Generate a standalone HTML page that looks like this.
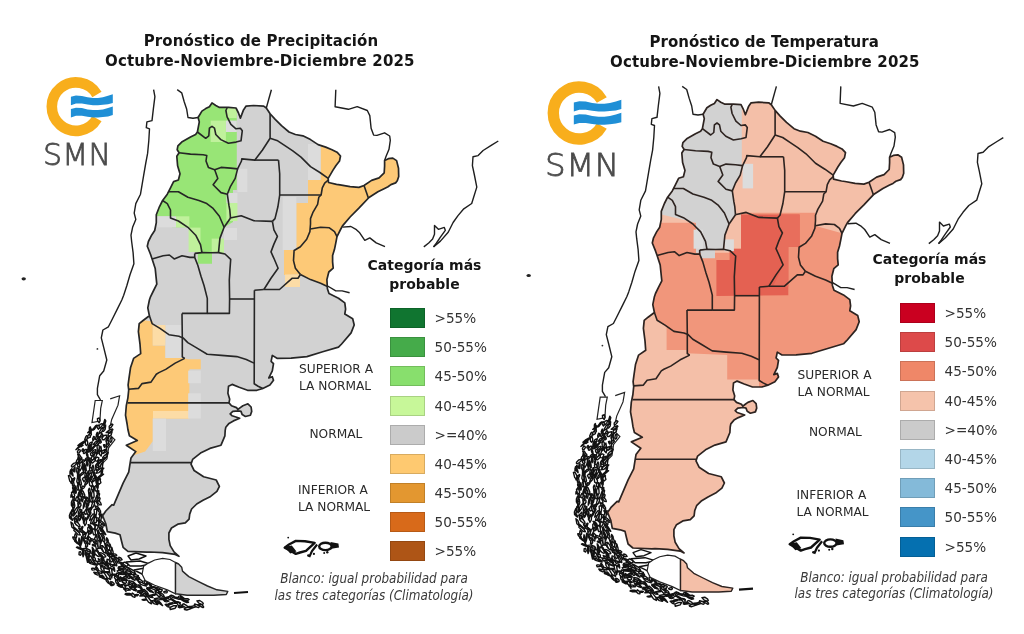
<!DOCTYPE html>
<html><head><meta charset="utf-8">
<style>
html,body{margin:0;padding:0;background:#fff;}
#w{position:relative;width:1024px;height:634px;overflow:hidden;background:#fff;font-family:"DejaVu Sans","Liberation Sans",sans-serif;filter:blur(0.4px);}
svg{position:absolute;left:0;top:0;}
.t{position:absolute;white-space:nowrap;font-family:"DejaVu Sans",sans-serif;font-weight:bold;color:#151515;font-size:15px;line-height:20px;}
.box{position:absolute;width:35px;height:20px;box-sizing:border-box;border:1px solid rgba(0,0,0,0.15);}
.lab{position:absolute;font-size:13.6px;line-height:16px;color:#333;white-space:nowrap;font-family:"DejaVu Sans",sans-serif;}
.cat{position:absolute;font-size:12.2px;line-height:17px;color:#2a2a2a;white-space:nowrap;font-family:"DejaVu Sans",sans-serif;}
.lt{position:absolute;font-weight:bold;font-size:14px;line-height:19.1px;color:#151515;text-align:center;white-space:nowrap;font-family:"DejaVu Sans",sans-serif;}
.fn{position:absolute;font-style:italic;font-size:13.35px;line-height:16.7px;color:#3a3a3a;text-align:center;white-space:nowrap;font-family:"DejaVu Sans Condensed","DejaVu Sans",sans-serif;}
.smn{position:absolute;font-family:"DejaVu Sans",sans-serif;font-weight:200;color:#484848;-webkit-text-stroke:0.85px #505050;white-space:nowrap;}
</style></head><body><div id="w">
<svg width="1024" height="634" viewBox="0 0 1024 634">
<clipPath id="cl"><polygon points="198.1,117.5 201.9,111.1 205.7,108.6 209.4,106.7 212.0,102.9 215.8,105.5 219.5,107.4 228.4,107.4 236.0,108.0 238.5,113.0 240.4,118.1 243.5,109.9 246.1,106.1 253.6,105.5 263.7,106.1 266.3,108.0 270.1,113.7 275.2,119.4 281.5,125.7 289.0,132.0 295.4,134.5 302.9,135.8 310.5,139.6 318.1,144.6 325.7,147.1 332.0,149.7 337.0,152.2 340.5,156.0 339.5,161.0 336.0,165.5 333.0,170.1 328.2,178.4 328.5,182.5 336.5,184.3 340.0,184.8 350.1,186.7 358.9,187.4 364.0,185.5 371.6,180.4 379.1,177.9 384.2,172.8 384.6,166.0 384.6,160.6 388.4,158.7 392.8,158.1 396.6,160.6 398.5,168.2 398.7,176.6 397.3,180.8 395.6,182.9 390.9,184.6 388.0,186.7 384.6,188.4 377.9,191.8 369.0,197.5 358.9,208.2 350.1,217.0 342.5,225.9 340.8,229.0 337.0,236.6 335.8,242.9 334.5,249.3 332.6,255.6 332.6,261.9 333.2,268.2 328.8,272.0 326.9,279.6 327.4,288.7 329.0,293.5 338.5,298.2 344.8,302.9 345.6,309.2 344.8,314.0 352.7,318.7 354.2,325.0 351.1,332.9 341.6,344.0 338.5,347.1 322.7,351.8 306.9,356.6 291.1,358.2 277.0,358.3 272.3,355.4 271.1,361.3 273.5,363.7 272.3,370.8 268.8,377.9 272.3,376.7 273.5,380.2 269.9,385.0 262.8,388.5 256.9,390.3 247.5,390.3 239.2,387.3 232.1,384.4 228.5,386.2 227.9,393.3 229.7,399.2 229.0,402.9 231.5,405.7 236.5,407.6 237.8,409.5 240.3,407.6 242.9,405.7 247.9,403.8 251.1,407.0 251.7,411.4 250.4,415.2 245.4,416.5 242.2,414.6 241.0,411.4 238.4,410.8 232.8,411.4 230.2,413.9 232.1,415.8 239.7,418.3 233.4,420.9 229.0,423.4 225.8,427.2 225.2,430.3 224.9,435.8 221.0,445.2 209.9,448.4 200.5,453.1 192.6,459.4 191.0,464.2 194.1,470.5 203.6,476.8 216.2,480.0 219.4,486.3 216.9,491.4 210.6,496.4 203.0,500.2 196.7,504.0 191.6,509.0 189.7,514.1 189.1,519.1 185.3,522.9 177.8,524.2 171.5,528.0 168.9,533.0 168.9,539.3 170.2,545.6 174.0,551.9 179.0,556.3 175.2,554.4 162.6,552.6 150.0,552.0 146.8,552.1 127.9,551.3 123.1,547.3 121.5,541.0 120.0,534.7 115.2,533.1 107.3,531.6 105.8,523.7 102.6,515.8 105.8,511.0 112.1,504.7 113.7,505.2 118.4,494.2 123.1,483.1 128.7,472.1 130.2,462.6 131.0,457.9 135.8,451.6 126.3,445.2 137.3,440.5 129.4,435.8 127.9,429.5 127.1,424.0 125.5,415.2 126.3,405.7 127.9,397.8 128.7,390.0 128.1,385.0 128.9,378.9 130.5,367.8 133.6,358.4 140.7,353.6 140.0,344.2 138.4,331.6 139.2,323.7 143.1,320.5 149.4,315.8 147.8,307.9 149.4,300.0 150.5,296.8 153.6,290.5 156.8,284.2 156.0,276.3 155.2,268.4 152.1,258.9 150.5,254.2 147.3,246.3 148.4,241.5 151.6,235.2 154.7,230.5 156.3,222.6 156.3,214.7 159.4,206.8 162.6,200.5 167.3,194.2 170.5,187.9 173.6,181.6 178.4,180.0 180.0,173.7 177.6,165.8 176.8,156.3 179.1,152.8 177.2,149.7 177.9,145.9 181.7,142.1 190.5,137.0 195.6,134.5 197.4,132.0 199.3,121.9"/><polygon points="175.5,562.5 178.6,564.0 181.7,567.2 182.5,571.1 188.8,576.6 198.1,581.3 207.5,586.0 216.9,589.8 227.8,591.4 226.3,594.5 213.8,595.3 201.3,595.3 187.2,595.3 175.5,593.8"/></clipPath>
<polyline points="153.6,89.7 154.9,96.6 153.3,109.3 152.0,120.6 146.9,121.9 146.3,127.6 149.5,128.8 148.8,140.8 147.6,153.4 145.7,163.5 143.7,175.2 142.1,184.7 140.5,194.2 135.8,203.6 134.2,213.1 135.8,219.4 132.6,227.3 131.0,235.2 131.7,242.0 133.1,252.6 133.9,263.7 130.0,274.7 126.8,285.8 123.7,295.2 121.8,300.0 117.9,307.9 111.6,320.5 108.4,326.8 102.9,330.0 101.3,337.9 103.7,347.3 106.8,360.0 103.7,371.0 99.7,375.7 97.4,388.4 97.4,394.7 100.5,400.0" fill="none" stroke="#1e1e1e" stroke-width="1.4" stroke-linejoin="round"/>
<polyline points="177.2,89.7 181.7,92.8 184.2,101.7 186.7,109.3 188.0,117.5 193.0,118.3 198.1,117.5" fill="none" stroke="#1e1e1e" stroke-width="1.4" stroke-linejoin="round"/>
<polyline points="266.3,108.0 271.4,89.7" fill="none" stroke="#1e1e1e" stroke-width="1.4" stroke-linejoin="round"/>
<polyline points="335.8,89.7 335.1,106.7 348.4,109.3 357.2,106.7 367.3,110.5 369.8,115.6 371.1,128.2 373.6,135.1 377.0,135.4 384.6,132.8 389.7,136.0 390.3,140.4 389.0,149.3 385.9,156.8 384.6,160.6" fill="none" stroke="#1e1e1e" stroke-width="1.4" stroke-linejoin="round"/>
<polyline points="498.3,141.0 492.0,144.8 483.1,150.5 478.1,155.6 473.0,156.8 472.4,165.7 474.3,174.5 476.8,187.1 471.7,203.5 463.8,208.8 458.0,215.6 453.1,222.5 448.2,232.3 440.4,241.1 433.5,246.9" fill="none" stroke="#1e1e1e" stroke-width="1.4" stroke-linejoin="round"/>
<polyline points="423.8,246.9 428.7,243.0 432.6,239.1 434.5,234.2 434.5,225.4 438.4,229.3 444.3,227.4 445.3,230.3 440.4,237.1 436.5,243.0 433.5,246.9" fill="none" stroke="#1e1e1e" stroke-width="1.4" stroke-linejoin="round"/>
<polyline points="342.5,227.1 350.9,226.5 356.4,229.7 359.7,232.8 364.8,240.4 369.8,237.9 376.2,242.9 385.0,246.7" fill="none" stroke="#1e1e1e" stroke-width="1.4" stroke-linejoin="round"/>
<polyline points="327.6,286.0 335.8,290.9 342.1,290.9 349.6,292.8" fill="none" stroke="#1e1e1e" stroke-width="1.4" stroke-linejoin="round"/>
<polyline points="110.2,398.9 119.6,395.8 118.0,405.2 111.7,419.4 108.6,433.6 114.9,439.9 108.6,447.8 107.0,458.8 97.6,468.3 86.5,476.2" fill="none" stroke="#222" stroke-width="1.2"/>
<polygon points="95.2,400.5 102.3,400.5 100.7,408.4 99.9,421.0 92.0,422.6 93.6,411.5" fill="#fff" stroke="#222" stroke-width="1.2"/>
<g fill="#fff" stroke="#111" stroke-width="1.4" stroke-linejoin="round"><polygon points="109.3,428.5 109.2,426.2 111.7,423.9 112.9,424.6 111.3,427.1"/><polygon points="103.8,425.6 103.6,423.5 104.8,419.5 105.8,420.9 105.0,423.8"/><polygon points="99.2,422.8 97.7,421.0 97.4,418.6 99.3,417.9 100.0,420.6"/><polygon points="106.2,432.6 109.3,430.1 112.3,428.9 112.9,429.7 109.7,432.3"/><polygon points="102.7,430.9 102.9,428.8 104.5,425.7 105.6,425.0 105.6,426.4 104.2,430.0"/><polygon points="98.7,428.2 98.5,426.6 100.2,424.4 101.9,423.7 102.9,424.2 101.7,426.1 100.3,428.0"/><polygon points="109.2,433.6 110.0,432.2 112.0,431.1 111.9,432.9 110.8,434.2"/><polygon points="101.9,431.1 102.4,429.5 103.7,427.7 105.5,427.6 105.0,429.5 103.5,431.4"/><polygon points="98.5,429.3 97.2,427.5 97.1,425.7 98.3,425.0 99.5,427.3"/><polygon points="109.2,436.5 108.0,435.9 108.4,433.7 109.6,433.2 111.1,432.4 111.4,434.5 110.3,435.9"/><polygon points="100.0,434.3 99.4,432.1 101.0,429.3 102.5,427.4 103.2,429.3 101.6,432.2"/><polygon points="93.0,430.2 93.0,429.1 95.5,425.8 96.6,425.2 96.3,426.5 94.2,429.5"/><polygon points="110.5,442.4 109.9,441.4 110.1,439.3 110.8,437.7 111.9,437.5 112.0,439.6 111.5,441.7"/><polygon points="100.3,436.9 100.1,435.6 101.5,434.5 102.6,434.5 103.0,435.6 101.6,437.0"/><polygon points="97.7,437.3 97.7,434.7 100.7,432.7 102.0,433.3 100.2,436.7"/><polygon points="90.6,434.2 89.9,432.0 89.3,429.5 89.6,427.5 90.4,426.9 90.9,429.6 91.2,432.5"/><polygon points="106.1,441.8 106.0,440.1 107.7,437.2 109.2,435.7 108.6,438.1 107.6,440.6"/><polygon points="102.8,439.8 101.9,438.7 103.6,435.7 105.4,435.3 106.9,435.1 106.3,437.6 104.2,439.8"/><polygon points="97.2,437.2 96.2,435.0 97.1,432.5 97.9,432.4 97.9,434.6"/><polygon points="87.7,432.7 89.4,431.0 91.6,429.1 92.5,429.4 91.9,430.5 89.4,432.4"/><polygon points="106.4,448.9 106.2,445.2 107.1,440.2 108.3,440.1 108.8,441.6 108.0,444.9"/><polygon points="98.9,441.6 98.7,439.5 98.9,437.3 100.0,437.2 99.6,439.6"/><polygon points="96.3,440.1 95.4,439.2 96.4,436.3 97.9,435.3 97.8,437.5 97.3,439.1"/><polygon points="89.3,436.2 88.8,435.1 89.5,433.7 90.9,433.1 91.4,434.5 90.5,436.0"/><polygon points="106.2,446.7 106.3,445.0 107.8,443.9 109.1,443.4 109.3,444.7 107.8,446.3"/><polygon points="100.3,443.1 99.0,442.9 98.7,441.3 98.9,439.7 100.2,439.7 101.0,440.8 101.3,442.3"/><polygon points="92.9,440.9 92.7,438.8 93.6,436.5 94.9,437.1 94.2,439.3"/><polygon points="87.6,438.5 87.3,437.0 88.2,435.2 89.8,434.7 90.2,435.7 90.4,437.0 89.1,437.6"/><polygon points="104.5,447.3 104.0,446.5 103.5,444.9 104.1,444.6 104.8,444.7 105.1,446.8"/><polygon points="93.4,447.1 96.1,443.2 100.2,440.0 100.4,441.4 97.5,444.8"/><polygon points="93.0,444.7 95.1,442.1 97.6,440.7 98.3,441.4 96.0,443.8"/><polygon points="85.4,440.7 84.7,439.4 85.9,436.4 86.8,435.6 87.7,436.3 86.7,439.8"/><polygon points="102.2,452.9 102.5,451.5 105.1,449.4 106.7,449.6 107.0,450.2 106.4,451.7 103.3,453.5"/><polygon points="98.1,451.5 97.3,449.2 97.0,446.5 98.0,444.1 99.3,446.1 99.2,449.5"/><polygon points="88.1,447.8 88.4,445.7 89.6,443.4 91.0,442.4 92.3,442.0 91.6,444.5 89.9,446.4"/><polygon points="86.7,445.5 85.6,444.7 85.2,442.4 85.6,440.0 86.9,439.9 87.7,442.2 87.6,444.4"/><polygon points="99.4,453.9 100.4,451.8 103.4,450.3 105.6,450.4 103.9,452.3 102.1,453.4"/><polygon points="101.1,456.1 99.7,454.6 98.9,450.1 99.9,448.0 100.9,446.3 101.6,450.3 101.8,453.6"/><polygon points="92.1,448.7 92.1,448.0 93.6,446.6 94.4,446.8 93.8,447.7 92.8,448.8"/><polygon points="88.6,447.7 88.4,446.4 89.7,445.4 90.9,445.2 91.3,446.4 89.9,447.4"/><polygon points="77.9,445.5 80.2,443.5 83.7,441.4 86.3,440.5 84.5,442.3 80.0,445.1"/><polygon points="104.0,459.2 103.7,458.4 105.4,455.2 107.5,452.1 108.2,452.6 106.9,455.9 105.0,458.5"/><polygon points="94.8,454.8 96.1,453.4 97.9,451.7 100.8,450.1 100.7,451.1 98.8,453.0 96.2,454.4"/><polygon points="93.1,452.4 92.4,451.7 93.8,450.1 95.4,449.6 96.3,450.1 95.1,451.6 93.8,452.6"/><polygon points="86.6,453.2 87.5,449.8 90.0,444.7 90.9,444.9 88.6,450.2"/><polygon points="79.8,446.2 80.5,445.1 82.0,444.6 83.1,445.3 81.1,446.8"/><polygon points="103.3,458.4 102.7,457.5 104.5,455.4 106.9,454.5 107.3,455.7 105.9,457.4 104.3,458.5"/><polygon points="93.4,455.3 94.1,453.5 96.7,451.8 98.3,451.3 97.7,452.8 95.4,454.7"/><polygon points="88.4,452.1 88.8,451.0 91.5,448.7 92.5,448.9 92.6,449.9 89.5,451.9"/><polygon points="87.6,451.7 88.0,450.3 91.2,447.6 91.6,448.5 89.0,451.4"/><polygon points="75.9,449.7 78.4,446.9 80.2,444.7 82.6,443.1 83.0,443.5 80.7,445.8 78.5,447.9"/><polygon points="99.8,462.0 101.7,459.6 105.0,457.4 106.3,457.4 102.5,460.9"/><polygon points="93.7,459.0 93.7,456.1 95.4,452.7 96.9,453.6 95.8,457.0"/><polygon points="91.8,455.9 90.7,455.2 90.5,453.2 91.8,452.6 92.7,453.6 93.3,455.5"/><polygon points="84.0,453.6 83.3,453.0 84.5,450.2 85.8,449.4 86.5,449.5 86.5,451.1 85.0,453.2"/><polygon points="82.4,451.4 81.9,450.8 82.2,449.7 83.0,448.7 83.6,449.5 83.6,450.4 83.2,451.6"/><polygon points="99.7,463.3 99.1,461.4 100.2,459.7 101.2,459.8 100.9,461.6"/><polygon points="96.0,460.9 94.8,460.1 95.7,458.0 97.4,457.2 98.9,457.9 98.3,459.8 97.2,461.2"/><polygon points="92.7,460.8 91.1,458.6 92.6,455.4 93.9,456.5 94.0,458.5"/><polygon points="87.8,457.4 87.2,456.5 86.5,454.8 86.6,453.0 87.3,453.5 87.8,454.7 88.0,456.3"/><polygon points="77.7,453.1 77.4,451.9 78.7,449.3 80.0,449.8 80.4,451.0 79.0,453.0"/><polygon points="97.7,463.6 97.5,462.5 97.8,460.7 99.3,460.1 100.2,460.7 100.2,462.3 98.8,463.5"/><polygon points="91.4,462.7 91.4,461.3 93.3,459.6 95.5,458.0 95.2,459.7 94.8,461.1 92.6,463.1"/><polygon points="87.7,460.4 87.2,460.0 88.4,458.9 89.4,457.9 90.3,458.1 89.5,459.6 88.1,461.2"/><polygon points="84.9,460.6 85.5,458.9 86.7,457.9 88.5,457.3 87.9,459.0 86.6,460.0"/><polygon points="81.2,460.0 79.6,458.4 77.7,454.4 79.3,454.4 81.4,457.9"/><polygon points="100.9,468.9 99.7,468.9 100.8,465.1 101.7,463.4 103.2,461.1 102.6,465.4 102.1,469.5"/><polygon points="95.6,466.5 95.4,465.9 96.9,463.7 98.8,462.2 98.9,463.1 98.2,464.8 96.1,467.0"/><polygon points="89.7,467.6 89.0,464.3 89.7,458.8 90.6,460.6 90.7,464.4"/><polygon points="81.9,463.2 82.2,461.5 82.8,460.0 83.9,460.0 84.7,461.0 83.3,462.2"/><polygon points="78.7,464.1 78.0,462.4 77.7,459.4 78.2,456.7 79.1,457.4 79.7,459.4 79.3,462.1"/><polygon points="96.6,470.4 95.7,468.3 97.0,464.7 98.8,460.7 98.6,465.1 98.5,469.4"/><polygon points="97.6,467.5 96.5,467.7 96.0,465.6 96.3,464.3 97.5,465.0 98.5,467.0"/><polygon points="87.1,466.1 86.6,464.7 86.4,462.5 86.9,460.6 87.5,462.6 87.6,464.8"/><polygon points="80.4,465.6 78.9,464.3 80.1,460.6 81.6,457.5 82.2,460.8 81.5,463.4"/><polygon points="76.6,462.8 76.2,461.9 76.8,460.1 78.5,458.9 79.0,460.0 78.5,461.5 77.5,462.9"/><polygon points="95.9,473.2 98.0,470.3 101.6,468.0 103.8,468.3 99.0,472.6"/><polygon points="93.3,473.6 92.4,471.2 92.0,468.0 92.4,466.3 93.0,465.2 93.8,467.7 94.0,471.5"/><polygon points="86.3,470.8 85.1,469.5 84.0,465.0 84.3,463.5 85.3,465.2 86.0,468.0"/><polygon points="80.0,470.8 79.0,468.8 79.5,464.1 81.2,461.8 82.2,462.4 82.7,465.0 81.4,468.2"/><polygon points="79.1,467.0 77.8,466.3 77.3,464.6 77.9,463.5 79.3,463.8 80.0,465.8"/><polygon points="101.1,475.2 101.1,473.1 101.1,471.1 101.9,469.0 102.6,469.3 102.5,471.5 102.0,474.2"/><polygon points="90.7,471.2 89.7,470.6 89.5,468.6 90.5,467.5 91.4,467.7 91.9,468.9 91.8,470.6"/><polygon points="85.4,471.4 84.5,468.5 84.2,465.7 84.8,465.7 85.4,468.3"/><polygon points="83.7,472.5 82.6,468.9 82.4,464.6 82.9,463.2 83.6,468.2"/><polygon points="71.5,466.8 71.5,465.6 73.7,463.3 76.0,462.6 77.3,463.0 74.9,465.3 72.7,467.0"/><polygon points="96.7,478.7 98.3,477.1 100.3,475.3 102.3,474.3 103.6,474.1 101.0,476.3 98.0,478.6"/><polygon points="94.7,476.8 93.7,475.5 93.3,473.5 94.5,472.5 95.2,475.2"/><polygon points="88.4,474.9 88.0,474.4 87.6,472.8 88.1,470.9 88.9,470.9 89.0,473.1 88.8,474.6"/><polygon points="77.9,474.4 76.7,471.8 76.9,467.7 78.5,468.4 78.9,471.7"/><polygon points="74.0,471.9 73.5,471.2 74.0,468.1 75.0,466.8 75.1,469.0 74.9,471.7"/><polygon points="100.1,480.6 98.8,479.7 98.5,477.3 99.1,477.2 100.5,479.1"/><polygon points="88.9,479.3 88.2,478.1 89.5,473.7 90.8,472.8 91.6,474.1 90.1,478.3"/><polygon points="85.5,478.4 84.8,477.1 85.0,474.5 85.4,472.2 86.1,472.9 86.8,474.3 86.2,476.6"/><polygon points="78.7,476.4 80.0,474.8 82.0,472.7 84.0,472.1 84.4,472.6 82.8,474.3 80.0,476.3"/><polygon points="70.0,474.3 70.0,472.1 71.8,468.7 72.6,469.6 71.6,472.5"/><polygon points="99.6,482.0 98.2,480.9 97.2,479.1 97.9,477.8 99.1,478.7 99.7,480.3"/><polygon points="89.8,480.6 90.3,478.2 91.6,476.1 92.5,476.2 91.6,479.2"/><polygon points="87.6,478.3 86.6,477.7 87.0,475.7 87.9,475.5 88.2,477.5"/><polygon points="78.2,477.6 77.5,477.8 77.6,473.8 78.0,471.1 78.8,470.1 78.9,473.9 78.7,476.7"/><polygon points="73.1,476.0 72.0,474.9 70.3,471.3 70.5,470.0 71.7,471.7 72.8,474.1"/><polygon points="97.9,485.9 96.5,483.3 95.7,479.5 95.1,476.4 95.6,475.4 97.1,478.5 97.3,481.8"/><polygon points="92.3,482.2 92.3,481.1 93.5,478.8 95.4,476.7 95.4,478.3 94.9,479.9 93.5,481.4"/><polygon points="83.9,481.7 83.2,480.3 82.4,478.9 83.5,477.5 85.0,477.6 85.4,479.3 85.0,480.6"/><polygon points="78.4,485.0 78.5,480.9 78.9,476.9 79.9,474.5 80.1,477.4 79.6,482.1"/><polygon points="72.2,483.4 69.7,480.9 68.4,475.7 69.9,475.5 72.4,479.9"/><polygon points="99.1,484.2 97.6,482.6 98.6,479.4 100.0,479.6 100.9,482.8"/><polygon points="90.2,484.0 89.3,482.2 89.0,478.6 89.8,477.6 90.6,482.1"/><polygon points="86.9,483.3 86.4,481.5 86.8,478.6 87.9,479.4 87.9,481.7"/><polygon points="78.0,484.1 76.8,481.6 77.2,478.8 78.4,477.4 79.2,481.7"/><polygon points="71.0,483.1 71.4,481.6 72.7,479.3 74.4,477.7 74.8,478.2 74.1,480.2 72.1,482.8"/><polygon points="98.1,488.0 97.0,486.5 96.2,481.8 96.4,479.5 97.4,481.0 98.2,485.6"/><polygon points="92.2,487.1 89.7,485.4 89.0,481.0 90.5,480.4 92.5,484.0"/><polygon points="84.7,485.0 85.0,483.8 85.6,482.1 87.3,480.7 87.6,481.7 87.1,483.3 85.6,485.1"/><polygon points="80.6,486.2 79.6,483.9 79.0,479.2 80.6,479.9 81.5,484.0"/><polygon points="73.4,485.6 72.5,485.4 72.1,482.0 72.0,478.8 72.9,479.6 73.6,481.8 74.2,485.3"/><polygon points="96.3,491.1 94.5,489.5 93.1,487.3 93.0,485.9 94.2,486.7 95.7,488.9"/><polygon points="93.7,491.4 92.2,490.1 91.6,487.7 91.7,486.1 92.5,485.7 93.5,487.1 93.7,489.0"/><polygon points="80.5,489.6 81.4,487.9 82.7,486.1 83.4,486.3 83.6,487.0 82.1,488.4"/><polygon points="77.4,490.0 76.8,488.6 77.2,485.9 78.9,484.9 79.8,485.5 79.7,487.3 78.9,489.9"/><polygon points="75.7,488.5 74.1,488.4 73.0,486.2 74.2,485.4 75.6,487.0"/><polygon points="97.3,491.3 95.1,490.5 94.9,486.6 95.9,485.4 97.6,489.0"/><polygon points="92.1,490.1 91.2,489.2 92.1,486.2 93.6,486.4 93.8,487.7 93.3,489.4"/><polygon points="81.0,489.8 81.5,488.4 82.5,486.4 83.8,486.3 85.1,486.0 83.9,488.0 82.4,489.0"/><polygon points="80.2,492.2 78.5,488.9 78.0,484.1 79.8,484.6 81.1,488.8"/><polygon points="72.8,489.1 72.6,487.9 73.4,486.1 74.6,485.5 75.3,486.5 73.8,488.4"/><polygon points="97.6,494.0 96.9,492.9 97.7,491.1 98.8,490.7 98.7,493.3"/><polygon points="89.7,496.7 88.8,493.6 88.4,490.3 89.2,488.2 90.1,490.4 90.7,494.5"/><polygon points="82.1,493.3 81.3,493.1 80.3,491.4 81.1,490.4 81.8,489.8 82.6,491.1 82.6,492.6"/><polygon points="75.8,493.5 75.3,492.4 75.5,489.2 76.1,489.9 76.3,492.3"/><polygon points="72.1,494.6 72.1,492.1 74.4,488.3 75.7,488.3 73.9,492.5"/><polygon points="97.0,496.9 96.5,496.0 97.4,494.4 98.2,492.8 98.9,493.3 99.2,494.8 97.9,495.9"/><polygon points="93.0,498.0 91.7,497.5 91.5,494.0 92.1,491.8 93.4,490.4 94.0,493.9 94.1,496.9"/><polygon points="85.0,498.4 82.7,496.1 81.0,490.7 83.0,491.1 84.7,494.9"/><polygon points="79.0,495.8 78.5,495.1 78.6,493.6 79.2,492.2 80.0,492.1 80.0,493.8 79.6,495.3"/><polygon points="70.9,497.3 71.0,495.1 72.8,492.1 74.6,490.4 74.0,492.9 72.7,495.3"/><polygon points="96.7,499.8 96.7,496.9 98.4,493.5 99.6,493.9 98.7,497.7"/><polygon points="89.0,499.8 89.0,496.6 89.5,492.7 90.3,493.0 90.0,497.1"/><polygon points="80.5,496.8 80.2,495.4 81.8,493.2 82.9,494.5 81.8,496.4"/><polygon points="77.3,499.6 77.5,497.6 78.3,494.3 79.9,490.2 80.0,492.2 79.3,494.9 78.2,499.2"/><polygon points="73.9,497.3 72.3,496.3 71.5,492.7 73.6,492.1 74.7,495.6"/><polygon points="96.8,503.0 97.0,500.3 99.1,497.3 100.1,498.3 99.1,501.9"/><polygon points="89.2,502.5 87.5,501.4 85.6,498.6 85.8,496.9 87.4,497.7 89.6,500.7"/><polygon points="82.1,501.8 81.6,500.5 81.6,497.2 82.6,496.9 83.4,497.4 82.8,500.6"/><polygon points="77.3,501.4 75.7,500.4 76.0,498.3 76.8,496.7 78.2,497.9 78.0,499.7"/><polygon points="74.6,500.7 73.4,499.9 72.6,497.1 73.9,496.8 75.1,499.3"/><polygon points="95.4,502.1 94.5,501.6 95.9,497.7 97.5,494.9 97.3,498.2 96.4,502.3"/><polygon points="91.5,502.0 90.7,501.8 91.0,499.2 91.9,497.2 92.8,497.5 92.9,499.5 92.3,502.3"/><polygon points="83.8,505.4 84.4,501.9 86.9,497.5 87.6,497.6 85.9,501.5"/><polygon points="79.6,503.1 79.1,502.5 79.3,499.7 79.9,498.7 80.3,499.8 80.0,502.0"/><polygon points="71.4,505.4 71.4,502.2 72.3,500.0 73.9,499.1 73.0,502.8"/><polygon points="101.3,504.9 99.6,504.7 98.2,503.1 97.6,501.6 98.0,500.2 99.8,501.7 100.8,503.1"/><polygon points="87.3,507.1 86.3,505.0 87.4,501.2 89.0,499.7 88.6,505.1"/><polygon points="83.2,508.5 83.4,505.5 84.1,502.5 84.9,501.4 85.5,502.0 84.4,505.9"/><polygon points="80.0,507.2 78.5,506.7 77.8,503.7 78.0,501.8 79.3,503.1 80.4,505.6"/><polygon points="73.8,508.9 72.0,506.2 72.8,503.5 74.2,502.1 74.8,505.8"/><polygon points="97.1,507.0 95.3,506.3 93.7,502.8 94.1,500.6 96.2,501.6 98.1,505.3"/><polygon points="91.8,508.3 91.7,505.4 92.6,502.5 93.9,501.6 94.7,502.8 93.6,506.5"/><polygon points="86.2,506.8 86.7,505.2 87.5,503.6 88.4,503.3 88.6,504.1 87.5,505.7"/><polygon points="78.4,507.5 78.2,506.3 78.7,504.4 80.1,503.1 80.9,503.7 81.0,505.5 79.5,507.3"/><polygon points="73.6,507.3 72.7,507.7 72.4,506.0 72.4,504.6 73.3,504.5 74.0,505.5 74.3,506.8"/><polygon points="99.1,510.1 98.4,510.9 96.4,508.4 95.3,506.8 95.9,506.3 97.6,506.7 99.7,509.2"/><polygon points="90.1,510.8 89.6,509.3 90.4,507.7 91.5,507.1 91.4,509.8"/><polygon points="88.4,512.4 86.8,511.0 86.3,506.8 86.9,504.9 88.6,510.1"/><polygon points="74.4,514.9 74.4,511.0 76.8,507.6 78.8,506.7 76.9,511.5"/><polygon points="73.0,511.8 72.2,511.8 72.4,510.0 72.8,508.6 73.4,509.1 73.7,510.2 73.6,511.4"/><polygon points="100.6,512.7 99.0,511.8 97.8,509.8 97.5,508.1 99.0,509.1 100.5,510.9"/><polygon points="90.4,513.7 89.6,512.7 88.7,510.7 88.9,509.2 89.3,508.1 90.3,510.3 91.0,513.1"/><polygon points="85.6,514.3 84.3,512.8 85.2,510.4 86.2,509.2 86.9,510.7 87.3,513.4"/><polygon points="79.1,515.9 78.2,513.0 79.8,508.8 81.1,510.0 81.1,513.6"/><polygon points="73.1,516.2 72.1,514.1 71.2,512.2 71.7,510.3 72.6,509.4 73.2,512.2 74.0,514.7"/><polygon points="95.6,516.2 94.5,514.3 94.1,509.7 95.4,509.0 96.9,509.4 96.4,514.0"/><polygon points="89.6,515.7 87.7,514.9 86.1,509.8 87.6,509.2 89.4,513.4"/><polygon points="83.4,515.2 82.3,514.0 82.6,512.5 83.7,512.1 84.2,513.8"/><polygon points="78.4,518.0 79.1,514.6 80.1,512.0 81.9,509.8 81.4,512.8 80.4,515.8"/><polygon points="69.6,518.0 69.4,515.4 70.7,512.1 71.7,512.2 71.2,516.2"/><polygon points="100.6,517.5 100.3,516.1 101.3,514.3 102.2,514.1 101.7,516.5"/><polygon points="95.4,518.5 94.5,517.0 94.1,515.7 94.5,514.9 95.4,514.9 95.9,517.1"/><polygon points="82.9,520.0 82.6,517.8 83.3,515.9 84.0,515.9 84.0,518.1"/><polygon points="79.1,520.8 78.9,520.0 80.5,516.1 82.1,513.5 82.1,514.9 81.7,516.8 80.0,520.0"/><polygon points="72.6,520.4 71.1,519.5 69.8,516.7 70.6,516.4 72.1,518.6"/><polygon points="102.2,517.9 101.0,517.6 99.9,515.9 98.9,514.1 99.6,513.2 101.2,514.8 101.8,516.3"/><polygon points="89.6,520.4 90.7,516.8 93.0,513.9 94.5,514.3 92.5,518.7"/><polygon points="86.1,520.2 86.9,517.9 90.2,512.8 90.1,514.4 87.8,518.8"/><polygon points="78.9,519.6 78.5,518.1 78.4,516.0 80.1,516.2 80.5,517.4 80.2,518.8"/><polygon points="75.0,519.4 73.8,519.0 75.3,517.0 77.0,515.3 77.1,517.0 77.1,518.2 75.9,520.3"/><polygon points="98.3,521.2 97.2,520.4 96.5,519.4 96.3,517.8 97.5,517.9 98.7,518.4 99.4,520.3"/><polygon points="90.5,523.8 91.0,521.5 92.5,518.6 94.2,516.8 95.8,516.0 94.2,519.5 92.0,523.6"/><polygon points="83.5,523.0 83.5,520.6 85.6,517.7 86.1,519.6 85.5,521.5"/><polygon points="76.4,524.5 75.4,522.6 75.6,520.0 76.6,518.7 77.5,520.0 77.8,523.1"/><polygon points="76.8,524.0 75.1,523.4 74.0,518.2 75.4,518.5 77.2,522.1"/><polygon points="98.8,523.8 98.6,519.7 100.4,514.8 101.4,516.3 100.9,520.2"/><polygon points="95.2,522.9 93.9,522.2 94.3,518.3 95.3,517.1 96.5,517.9 96.5,522.1"/><polygon points="84.9,525.7 84.0,523.0 84.8,519.5 86.5,520.4 86.3,523.3"/><polygon points="80.1,526.7 78.9,526.8 76.0,524.6 74.5,521.9 75.6,521.4 78.0,522.8 79.7,525.2"/><polygon points="73.5,528.3 71.9,527.1 70.9,522.0 72.7,523.6 73.8,526.2"/><polygon points="105.1,525.7 103.5,525.3 101.3,523.3 99.3,521.2 99.0,519.5 102.3,521.8 105.0,524.4"/><polygon points="96.8,526.6 95.0,525.9 92.5,523.7 93.8,523.3 96.6,524.9"/><polygon points="92.1,528.3 90.6,527.4 89.4,526.3 88.0,524.7 88.9,524.8 90.1,525.2 91.7,527.1"/><polygon points="81.3,530.1 80.7,529.7 81.7,527.0 82.3,526.5 83.0,526.8 82.0,529.7"/><polygon points="77.8,531.4 76.2,531.3 73.3,528.0 74.5,527.6 77.0,529.8"/><polygon points="101.6,527.9 100.8,527.0 100.9,524.8 102.0,524.1 103.1,523.7 103.1,525.5 102.8,527.7"/><polygon points="95.4,531.7 94.7,528.7 95.5,525.3 96.2,524.5 96.4,528.8"/><polygon points="89.9,532.1 87.8,530.3 87.8,527.7 88.9,526.5 90.3,529.4"/><polygon points="84.2,534.0 82.2,532.5 80.5,530.2 79.7,528.2 81.4,529.4 83.5,531.8"/><polygon points="79.5,532.6 78.0,533.2 77.0,531.4 77.4,530.3 79.0,531.3"/><polygon points="102.3,529.6 100.3,528.4 98.5,526.2 98.3,524.2 100.2,525.5 102.3,527.5"/><polygon points="96.0,529.9 95.1,529.5 95.2,526.5 96.7,525.1 97.6,525.4 98.2,527.2 96.8,529.3"/><polygon points="91.8,533.2 90.7,530.1 90.0,526.3 90.8,526.7 91.7,530.0"/><polygon points="86.0,534.1 83.8,533.2 80.4,531.5 79.5,529.7 78.5,527.9 82.0,530.4 85.3,532.6"/><polygon points="80.4,535.0 77.9,534.6 73.8,530.2 75.2,529.3 78.9,532.5"/><polygon points="102.6,531.7 100.8,531.1 99.4,528.4 100.3,527.7 102.3,529.8"/><polygon points="94.9,534.9 93.6,534.9 92.4,530.8 92.8,528.5 93.8,529.1 95.0,530.4 95.5,533.5"/><polygon points="90.3,533.8 89.5,534.1 88.5,532.8 88.1,531.4 88.9,530.9 90.0,531.8 90.7,533.1"/><polygon points="84.9,536.1 82.9,535.3 82.8,533.1 83.8,532.7 85.5,534.0"/><polygon points="75.5,538.7 74.9,537.3 74.7,535.5 75.3,533.6 76.1,534.6 76.8,535.6 76.4,537.7"/><polygon points="105.8,534.7 104.0,533.9 101.7,530.5 99.8,527.2 102.4,529.1 104.4,532.2"/><polygon points="98.6,536.6 97.9,533.8 97.5,531.0 98.3,530.0 98.9,531.6 99.4,534.5"/><polygon points="85.4,538.4 84.9,537.4 85.9,534.0 88.1,531.0 88.6,532.5 88.5,535.1 86.5,538.5"/><polygon points="83.7,539.1 83.0,537.4 83.3,534.6 84.5,534.2 85.6,534.9 84.7,537.3"/><polygon points="76.3,541.2 75.4,541.4 73.2,538.6 72.7,537.1 73.2,536.9 74.5,537.5 76.1,540.0"/><polygon points="103.5,538.1 102.2,538.5 101.4,536.1 101.4,534.7 101.9,533.0 103.4,535.0 104.3,537.1"/><polygon points="95.3,542.4 95.2,538.5 95.9,534.4 96.8,534.8 96.8,539.3"/><polygon points="90.9,541.8 89.4,540.4 88.1,538.4 88.7,536.4 90.4,538.0 91.1,539.7"/><polygon points="80.9,545.1 80.3,544.6 81.0,540.4 81.7,536.5 82.3,537.3 82.2,540.5 81.5,543.5"/><polygon points="80.6,545.5 77.2,543.4 74.8,541.2 75.1,540.4 77.8,542.6"/><polygon points="100.8,543.5 99.7,539.5 100.4,533.7 102.1,533.4 102.0,539.4"/><polygon points="101.0,540.3 100.4,540.4 98.9,538.1 98.2,536.4 98.5,535.7 99.9,537.4 101.3,539.8"/><polygon points="89.7,544.3 88.3,543.5 86.8,540.9 87.3,539.7 87.4,537.7 88.9,540.3 90.0,542.7"/><polygon points="87.6,546.1 85.0,543.5 83.5,540.3 83.8,539.1 86.6,542.7"/><polygon points="80.6,548.2 79.6,545.1 78.7,540.9 79.0,538.0 80.0,541.2 80.4,544.6"/><polygon points="103.0,540.5 101.4,540.2 99.7,536.4 98.0,533.1 99.2,532.8 101.3,535.1 102.7,538.2"/><polygon points="96.2,541.8 95.0,541.3 94.6,538.6 95.5,537.0 96.6,536.3 97.2,538.7 96.9,540.6"/><polygon points="97.0,541.9 94.3,541.7 90.7,540.0 91.4,538.7 95.2,540.0"/><polygon points="86.2,547.6 85.5,546.6 85.8,544.2 86.5,542.9 87.5,541.7 87.7,544.3 87.1,546.7"/><polygon points="83.4,550.2 81.3,549.7 79.3,548.9 76.4,547.4 77.4,547.0 79.8,547.8 82.5,549.0"/><polygon points="104.0,541.7 102.9,540.9 102.6,538.6 103.5,537.3 104.4,538.7 105.0,540.7"/><polygon points="99.9,546.6 97.6,545.5 95.2,544.1 93.7,542.6 93.7,542.1 96.0,543.3 97.9,544.8"/><polygon points="96.8,546.4 94.6,546.1 93.1,545.6 92.3,544.9 93.0,544.3 95.1,545.3"/><polygon points="91.0,551.5 88.3,551.3 85.2,550.6 82.8,548.7 84.5,548.4 86.4,548.4 89.6,549.8"/><polygon points="80.6,555.3 79.0,554.5 79.2,552.0 80.6,551.6 81.3,553.9"/><polygon points="108.2,541.5 107.5,541.6 106.3,539.5 106.4,538.5 106.6,537.8 107.6,539.0 108.2,540.4"/><polygon points="99.0,548.5 97.9,548.1 97.8,543.8 98.0,540.5 99.1,540.1 100.3,543.2 100.0,547.7"/><polygon points="96.7,549.9 95.8,546.9 95.0,544.1 96.5,543.5 97.4,544.8 98.2,547.8"/><polygon points="85.9,554.2 85.4,553.0 85.3,551.4 86.0,549.9 87.1,549.6 87.1,551.7 86.7,553.1"/><polygon points="83.1,556.9 82.6,554.4 82.7,550.4 83.9,551.4 83.9,554.5"/><polygon points="108.9,545.7 107.9,546.0 107.0,543.5 106.7,542.2 107.3,541.9 108.6,542.3 109.3,544.7"/><polygon points="101.5,548.6 100.1,548.4 100.7,546.7 101.5,545.9 102.4,545.7 103.5,546.8 102.5,548.5"/><polygon points="94.5,555.9 93.7,554.7 92.7,551.0 92.2,547.1 93.1,548.3 94.1,550.7 94.9,554.6"/><polygon points="90.1,556.3 88.9,555.8 87.6,553.6 87.9,553.1 89.8,555.1"/><polygon points="89.0,557.5 87.2,557.2 85.0,553.8 86.3,553.1 88.9,555.6"/><polygon points="107.2,549.6 106.2,549.0 105.3,545.8 104.3,542.4 105.5,543.7 106.5,545.4 107.3,548.1"/><polygon points="104.5,552.1 102.6,551.0 100.2,546.7 101.0,545.7 102.3,545.7 104.1,549.6"/><polygon points="97.9,552.7 96.7,553.0 95.7,552.0 95.6,550.9 96.7,550.0 98.4,551.3"/><polygon points="93.5,557.8 91.7,557.5 89.6,555.1 89.2,553.0 90.3,552.8 92.1,553.2 93.6,556.0"/><polygon points="87.5,562.3 86.7,558.9 86.0,555.5 86.3,553.2 87.1,556.1 87.7,559.4"/><polygon points="109.6,547.3 109.2,546.7 108.8,545.6 109.3,544.9 109.9,544.0 110.5,545.4 110.2,546.8"/><polygon points="105.8,553.2 103.9,552.3 102.3,549.4 101.9,547.3 102.4,546.1 104.5,547.8 106.0,551.1"/><polygon points="99.0,556.7 97.4,556.0 94.7,553.4 94.9,551.5 95.0,550.0 97.3,551.6 99.7,555.5"/><polygon points="92.5,560.2 91.9,558.6 92.3,555.2 92.6,551.4 93.2,553.3 93.8,554.8 93.4,558.9"/><polygon points="88.2,561.7 87.6,560.3 87.8,557.9 88.1,555.7 88.7,556.4 89.0,557.9 88.8,559.9"/><polygon points="111.3,553.9 109.9,551.7 109.6,547.9 110.4,546.7 111.7,547.3 112.2,551.5"/><polygon points="105.8,556.9 103.5,557.3 99.4,554.6 99.4,552.8 101.4,552.9 104.6,554.6"/><polygon points="103.7,558.9 102.0,557.9 99.7,555.2 98.6,553.1 99.6,553.7 100.8,554.4 102.3,556.6"/><polygon points="94.4,560.9 93.7,560.2 92.7,558.9 93.5,557.5 94.4,557.4 95.4,558.6 95.3,560.6"/><polygon points="90.7,563.4 89.3,562.7 89.0,560.0 90.3,559.4 91.8,562.2"/><polygon points="112.9,556.8 111.8,554.8 110.8,551.7 111.3,549.9 111.8,547.9 113.0,551.4 113.3,554.7"/><polygon points="109.9,556.1 108.8,555.8 106.8,552.4 107.8,552.7 109.7,554.9"/><polygon points="103.7,562.4 102.2,559.0 101.3,555.2 102.3,555.8 103.8,559.2"/><polygon points="99.2,564.0 96.4,564.2 93.2,561.2 94.3,560.5 97.5,561.5"/><polygon points="97.1,565.4 93.9,564.6 90.7,563.6 88.5,561.9 91.2,562.1 95.5,563.8"/><polygon points="110.8,553.4 109.1,553.3 107.8,551.3 108.3,549.7 109.8,550.5 111.0,551.7"/><polygon points="109.6,556.4 108.1,555.2 105.9,552.1 105.7,550.3 107.1,550.9 109.6,554.9"/><polygon points="103.5,563.6 101.5,563.0 99.4,561.5 98.9,560.3 98.2,558.7 100.5,560.0 102.2,561.8"/><polygon points="101.8,563.9 100.0,564.1 97.4,563.0 97.3,561.8 98.4,561.4 101.0,562.3"/><polygon points="95.7,569.6 94.1,569.9 92.3,570.1 91.6,568.9 92.0,568.2 93.2,568.2 94.8,568.5"/><polygon points="113.7,554.7 112.4,555.2 110.0,555.0 107.2,554.3 107.2,553.3 110.1,553.3 112.7,553.9"/><polygon points="112.9,556.0 110.6,556.6 107.3,555.4 107.7,554.2 111.1,554.4"/><polygon points="106.8,565.4 104.1,563.7 100.9,558.3 102.7,559.0 105.1,561.9"/><polygon points="102.0,565.7 100.8,566.5 100.0,564.7 100.0,563.7 101.1,563.5 102.1,564.6"/><polygon points="98.6,571.2 96.8,570.3 95.6,567.3 96.3,566.5 98.1,569.1"/><polygon points="116.8,555.3 115.2,555.9 112.5,555.2 112.5,553.6 115.5,554.1"/><polygon points="111.7,562.0 110.2,561.0 109.7,558.3 109.5,555.4 111.3,557.5 112.7,560.6"/><polygon points="107.4,566.2 105.7,565.5 103.9,563.9 104.4,563.0 106.3,564.6"/><polygon points="105.0,568.1 103.6,568.3 101.4,567.8 100.7,565.8 102.9,565.8 104.9,566.6"/><polygon points="99.6,574.6 97.8,575.1 94.9,573.8 93.8,572.3 98.6,573.2"/><polygon points="116.2,559.6 114.8,558.4 113.1,555.5 112.7,554.3 113.6,554.8 115.8,557.8"/><polygon points="110.2,564.7 108.5,563.6 107.2,561.5 107.0,559.2 109.0,559.7 110.1,562.7"/><polygon points="108.5,568.0 107.2,566.2 106.0,562.4 106.2,561.3 107.0,561.5 108.4,565.7"/><polygon points="104.2,570.7 102.6,571.3 100.8,568.3 101.0,566.8 102.6,566.5 103.8,569.0"/><polygon points="101.9,573.3 99.7,573.1 97.5,571.6 97.7,570.3 101.3,571.3"/><polygon points="118.2,561.8 116.5,560.8 115.8,558.2 116.5,557.2 118.5,559.9"/><polygon points="116.8,565.9 115.2,565.1 113.0,560.6 112.5,558.4 114.0,559.1 116.5,563.8"/><polygon points="112.9,566.2 111.6,566.7 110.2,565.2 110.1,563.8 112.8,564.8"/><polygon points="108.7,572.6 107.8,573.1 104.2,572.8 101.5,572.3 102.6,571.8 104.5,571.7 108.7,571.8"/><polygon points="103.8,576.7 102.0,577.7 99.4,576.8 99.5,575.6 102.3,575.2"/><polygon points="122.1,559.7 119.9,560.2 118.7,558.7 118.8,557.2 120.8,558.0"/><polygon points="115.2,565.3 114.6,565.9 112.4,565.2 112.9,564.7 114.8,564.5"/><polygon points="113.6,569.4 112.6,569.8 107.6,569.1 104.9,568.0 108.5,568.2 111.9,568.8"/><polygon points="106.5,579.9 103.0,578.4 100.3,576.5 100.2,575.7 104.0,577.5"/><polygon points="123.7,563.4 120.9,563.3 117.5,562.9 116.8,561.9 118.2,561.4 121.1,562.4"/><polygon points="114.7,571.4 113.7,569.9 113.1,568.3 113.3,567.3 114.2,567.7 114.6,569.6"/><polygon points="111.7,578.0 110.2,574.5 109.1,569.7 110.0,567.5 111.6,569.4 112.4,574.6"/><polygon points="110.6,579.6 107.2,577.9 104.4,573.2 106.0,571.8 109.3,575.8"/><polygon points="123.8,567.5 122.4,566.4 120.9,564.1 120.8,562.6 123.4,565.9"/><polygon points="120.1,570.4 118.8,570.1 118.1,568.1 118.7,566.9 119.9,567.6 120.2,569.0"/><polygon points="116.8,575.1 114.6,575.3 112.4,575.1 110.9,574.5 112.6,574.2 115.3,574.3"/><polygon points="108.9,583.5 107.7,582.6 106.4,581.1 105.7,578.7 106.7,578.2 108.0,580.6 109.1,582.3"/><polygon points="125.6,567.7 123.7,568.1 120.9,568.1 118.9,566.8 121.1,566.1 124.8,566.4"/><polygon points="123.9,569.2 122.0,569.9 119.4,569.8 119.2,568.8 122.2,568.4"/><polygon points="118.3,576.9 117.2,576.0 116.3,574.8 116.5,573.2 117.7,573.5 118.6,574.1 118.6,575.4"/><polygon points="112.3,585.5 111.1,585.5 109.6,583.7 110.3,582.9 111.8,584.4"/><polygon points="128.1,565.4 126.6,566.4 123.9,564.7 122.8,563.1 124.4,562.1 127.6,563.7"/><polygon points="125.4,573.5 121.8,573.3 118.1,572.4 117.2,570.9 118.9,570.4 122.6,571.5"/><polygon points="117.9,580.6 116.0,579.9 114.4,577.7 114.8,576.0 116.5,576.9 117.6,578.4"/><polygon points="114.1,584.6 113.2,585.2 110.9,583.1 110.7,581.6 112.4,582.0 114.1,583.6"/><polygon points="128.6,568.8 127.1,569.5 123.6,567.5 123.7,566.4 127.5,567.5"/><polygon points="125.3,574.2 123.7,574.6 119.8,574.3 118.8,573.0 121.2,572.8 124.2,573.2"/><polygon points="120.3,581.4 119.5,581.3 118.3,578.6 117.8,577.1 117.7,575.8 119.3,577.7 120.1,580.0"/><polygon points="117.6,583.7 116.4,583.2 115.6,581.4 115.6,579.1 117.3,580.8 118.5,582.6"/><polygon points="131.5,573.8 128.2,573.3 123.9,571.8 122.5,569.6 125.5,569.9 130.0,571.6"/><polygon points="126.4,575.3 125.8,575.6 124.5,574.0 123.4,572.5 124.7,572.9 126.2,574.5"/><polygon points="124.6,583.5 121.9,581.2 119.9,577.3 120.5,576.7 123.4,580.2"/><polygon points="120.6,585.7 119.0,585.1 117.5,584.0 117.3,583.2 118.2,583.3 119.7,584.4"/><polygon points="131.0,572.7 130.0,573.6 127.0,572.9 125.5,571.5 127.4,570.8 130.1,571.7"/><polygon points="127.8,577.1 126.4,578.1 124.4,578.2 123.4,577.5 124.3,576.6 126.0,576.6"/><polygon points="127.5,580.3 125.4,580.4 121.4,578.1 122.0,577.7 125.6,578.8"/><polygon points="122.5,587.1 120.8,587.2 118.4,586.0 117.1,585.0 118.6,585.0 121.2,585.9"/><polygon points="135.8,574.2 132.5,572.3 129.8,570.3 128.4,567.6 131.5,569.4 134.3,571.2"/><polygon points="129.6,578.5 128.2,578.5 126.5,574.7 127.0,573.0 128.6,574.2 130.3,577.3"/><polygon points="126.7,582.2 125.3,583.5 122.3,582.1 122.7,580.5 125.7,580.6"/><polygon points="124.9,585.7 122.9,586.4 120.1,585.6 120.9,584.6 122.8,584.8"/><polygon points="134.9,576.8 132.8,577.4 129.9,576.4 127.9,574.3 130.9,574.2 134.1,574.9"/><polygon points="134.9,580.5 132.5,579.2 129.5,577.0 127.8,575.1 128.8,575.3 130.4,575.9 132.5,578.1"/><polygon points="127.5,585.4 125.7,586.2 123.6,586.3 123.8,585.4 125.7,584.8"/><polygon points="126.0,591.7 124.2,588.8 122.4,586.8 122.6,584.8 123.2,583.9 124.9,585.8 125.4,588.6"/><polygon points="138.3,576.8 137.7,577.7 134.4,576.5 133.4,575.2 133.3,574.4 135.3,574.7 138.4,575.7"/><polygon points="134.4,583.7 131.5,583.6 129.0,582.3 128.8,580.8 132.8,581.5"/><polygon points="133.0,585.8 130.3,585.3 128.8,583.1 129.1,582.2 131.8,583.4"/><polygon points="130.4,590.0 127.3,590.2 123.8,589.1 125.0,588.3 127.8,588.4"/><polygon points="139.3,580.7 137.9,580.3 135.9,579.6 135.1,578.4 136.7,578.7 138.7,579.8"/><polygon points="137.3,586.4 134.9,585.2 133.2,582.7 133.6,582.0 135.7,583.9"/><polygon points="136.3,591.0 133.3,589.8 129.6,586.8 127.9,583.8 130.9,584.7 134.8,588.3"/><polygon points="130.9,594.0 131.1,595.0 127.0,595.0 125.1,594.4 125.5,593.7 127.3,593.4 129.5,593.5"/><polygon points="139.6,578.6 138.4,578.7 136.6,576.9 137.4,576.5 139.3,577.5"/><polygon points="136.8,586.8 135.6,587.4 132.0,587.1 130.8,586.5 131.8,586.0 135.4,586.1"/><polygon points="136.4,589.8 133.2,589.7 130.2,588.5 129.7,587.1 133.9,587.9"/><polygon points="142.4,582.6 141.1,582.5 139.1,582.2 138.1,580.4 138.5,579.2 140.7,579.8 142.8,581.5"/><polygon points="141.0,587.1 138.8,587.3 134.1,585.4 135.5,584.5 139.3,585.6"/><polygon points="134.8,597.2 133.3,596.9 131.7,595.6 131.7,594.1 132.3,593.1 133.8,594.1 135.2,595.8"/><polygon points="146.3,586.2 143.5,585.4 140.7,584.3 139.6,583.0 138.0,581.2 141.5,582.4 145.3,584.5"/><polygon points="142.4,590.3 140.7,588.9 139.0,586.1 138.9,584.8 139.9,585.4 142.1,588.4"/><polygon points="138.4,594.8 137.4,595.7 135.3,595.7 134.6,595.1 135.5,594.6 136.8,594.4"/><polygon points="147.1,585.0 145.3,584.1 144.1,582.1 144.2,580.6 145.6,580.7 147.5,583.2"/><polygon points="143.4,591.2 143.0,592.3 140.4,592.3 137.5,592.3 138.3,591.1 140.1,590.4 141.9,590.7"/><polygon points="142.0,594.2 141.0,594.2 138.6,592.1 137.8,590.6 139.3,591.0 141.6,593.1"/><polygon points="154.2,583.6 150.4,584.1 145.8,583.8 146.9,582.6 150.8,582.3"/><polygon points="148.4,594.0 146.2,593.3 143.3,590.9 142.9,589.7 144.1,589.4 147.2,592.1"/><polygon points="147.5,594.3 145.2,595.8 139.8,596.0 141.1,594.8 144.6,593.8"/><polygon points="151.9,586.8 151.1,586.5 149.7,585.2 149.1,583.9 149.3,583.3 150.7,584.6 151.7,585.9"/><polygon points="150.4,591.7 148.8,590.3 146.7,588.2 147.3,587.6 148.3,588.0 149.7,589.8"/><polygon points="147.7,597.7 146.1,597.6 143.0,594.5 143.6,593.7 144.7,593.8 147.4,596.1"/><polygon points="155.2,587.0 153.2,587.9 149.4,588.3 148.9,587.7 153.3,586.6"/><polygon points="153.4,592.5 152.0,592.1 149.3,590.8 147.2,589.1 147.1,588.3 150.1,589.8 152.3,591.4"/><polygon points="149.2,599.5 146.8,599.9 144.0,600.3 142.1,599.8 144.7,599.3 147.8,598.9"/><polygon points="158.7,589.9 156.0,590.3 152.4,588.8 149.0,587.2 152.1,587.1 156.6,588.1"/><polygon points="153.0,597.5 150.3,597.3 148.2,596.0 147.9,595.0 151.3,595.7"/><polygon points="151.4,603.8 148.5,602.1 146.2,598.8 145.2,596.0 147.6,596.7 150.8,600.7"/><polygon points="159.6,589.2 158.6,590.0 156.4,589.1 155.0,587.9 156.9,587.7 159.1,588.0"/><polygon points="160.3,592.7 158.1,593.8 154.8,595.2 152.2,595.3 150.7,595.1 155.0,593.8 158.6,592.6"/><polygon points="155.5,601.3 154.5,602.3 153.1,602.8 152.1,601.9 151.5,600.7 153.2,600.5 154.8,600.1"/><polygon points="161.6,590.9 160.3,592.5 155.6,593.3 155.2,591.0 160.1,589.6"/><polygon points="160.6,596.1 158.6,596.5 155.5,593.2 155.4,591.2 159.7,594.1"/><polygon points="158.3,603.3 157.5,604.5 154.4,603.9 152.6,602.4 152.7,601.1 155.2,600.6 157.9,602.0"/><polygon points="162.3,589.8 161.5,591.3 158.6,591.4 158.6,589.9 160.9,589.0"/><polygon points="160.8,598.8 159.9,599.8 157.2,600.0 155.6,599.6 154.3,598.8 157.1,598.3 160.1,597.8"/><polygon points="157.7,603.8 156.7,603.8 154.6,601.3 155.2,600.8 157.6,602.8"/><polygon points="164.4,597.1 162.0,596.0 159.5,593.1 160.3,592.3 163.4,594.8"/><polygon points="162.6,605.6 160.1,604.0 157.2,601.7 157.5,600.8 158.9,601.2 160.8,603.1"/><polygon points="167.4,591.8 166.9,592.8 165.5,592.9 164.3,592.7 163.6,591.8 165.2,591.2 166.7,590.8"/><polygon points="167.0,600.9 163.9,600.2 160.8,598.1 162.2,597.8 164.8,598.6"/><polygon points="170.0,597.2 169.0,598.1 165.0,599.2 161.3,599.6 163.9,598.0 168.9,596.8"/><polygon points="168.9,601.2 166.5,601.9 164.5,601.3 164.1,600.4 166.7,600.0"/><polygon points="170.5,599.6 169.6,599.6 168.6,599.0 168.4,597.6 169.3,596.4 170.4,597.9 171.5,598.9"/><polygon points="168.9,607.1 167.3,606.6 165.2,604.5 167.0,604.3 168.8,605.4"/><polygon points="174.5,597.8 172.8,597.8 170.0,595.7 171.4,595.1 174.0,596.2"/><polygon points="173.5,603.1 172.7,603.9 169.9,604.5 166.8,605.1 167.9,604.2 169.3,603.2 172.5,602.7"/><polygon points="177.5,603.5 174.7,602.1 171.5,599.8 171.3,598.6 176.1,601.5"/><polygon points="176.7,605.8 175.2,608.2 170.3,609.5 169.8,607.5 173.8,605.7"/><polygon points="182.6,598.9 179.0,599.4 175.0,598.2 173.0,596.8 178.6,597.6"/><polygon points="180.4,602.8 178.0,603.2 174.6,603.4 174.5,602.6 175.1,602.0 178.9,602.0"/><polygon points="181.4,597.0 180.5,598.1 178.2,597.6 178.6,596.3 180.6,595.7"/><polygon points="179.9,605.4 178.4,605.6 176.7,602.9 177.6,601.7 180.3,604.0"/><polygon points="185.3,599.2 183.5,598.8 180.6,596.9 180.6,596.2 181.5,596.2 183.5,597.7"/><polygon points="185.5,605.8 183.3,607.1 179.3,607.7 178.3,607.2 178.5,606.3 182.2,606.0"/><polygon points="189.2,599.5 187.9,600.5 183.7,600.2 181.6,599.8 180.2,599.1 183.5,598.7 187.7,598.6"/><polygon points="185.6,605.2 184.7,606.4 182.9,606.3 181.5,605.9 182.6,605.0 184.4,604.2"/><polygon points="188.6,602.2 186.8,602.6 183.0,600.9 182.1,599.8 186.5,601.0"/><polygon points="187.6,607.1 186.2,607.9 183.0,606.0 182.1,604.6 183.4,603.8 186.9,605.6"/><polygon points="193.2,607.1 191.1,608.5 186.8,610.0 184.5,609.5 184.3,608.6 186.8,607.6 190.4,606.8"/><polygon points="193.3,607.0 191.4,607.4 189.1,607.4 188.0,607.0 189.0,606.5 191.7,606.5"/><polygon points="199.0,605.3 197.1,606.3 192.7,607.8 189.5,607.6 192.6,606.1 198.0,604.7"/><polygon points="199.2,607.0 198.4,607.6 195.9,606.7 194.3,605.0 194.7,603.9 197.1,604.8 199.3,606.0"/><polygon points="203.3,603.8 202.2,604.7 198.9,603.2 196.9,600.9 199.7,600.5 202.7,602.5"/><polygon points="203.6,607.1 203.0,607.6 200.8,606.5 198.9,605.0 199.7,604.5 201.6,604.6 203.4,606.2"/><polygon points="128.0,556.0 136.0,553.0 146.0,556.0 139.0,559.0 131.0,560.0"/><polygon points="126.0,562.0 140.0,561.0 150.0,564.0 141.0,566.0 130.0,566.0"/><polygon points="134.0,570.0 145.0,568.0 152.0,572.0 144.0,575.0"/></g>
<polygon points="175.5,562.5 170.0,559.5 162.6,558.4 154.7,560.0 148.4,563.1 143.6,566.3 142.1,574.2 145.2,580.5 154.7,585.2 167.3,589.9 175.5,593.8" fill="#fff" stroke="#222" stroke-width="1.2"/>
<g clip-path="url(#cl)"><rect x="60" y="80" width="420" height="530" fill="#d2d2d2"/>
<polygon points="150.0,95.0 236.8,95.0 236.8,190.0 233.0,190.0 233.0,222.0 224.1,227.3 219.9,238.4 218.5,252.6 212.0,252.6 212.0,263.7 197.8,263.7 197.8,252.6 189.4,250.0 189.4,227.3 172.0,227.3 172.0,216.3 140.0,216.3" fill="#98e576"/>
<polygon points="320.6,130.0 420.0,130.0 420.0,300.0 335.0,292.0 327.4,286.5 320.6,283.3 310.5,279.6 300.4,274.5 284.0,275.0 284.0,250.0 296.3,250.0 296.3,203.0 308.0,203.0 308.0,180.0 320.6,180.0" fill="#fdc977"/>
<polygon points="100.0,314.0 152.8,321.4 152.8,345.4 165.4,345.4 165.4,358.0 183.1,358.0 188.2,359.2 200.8,359.2 200.8,369.3 189.4,369.3 189.4,418.5 152.8,418.5 152.8,441.3 145.2,451.4 130.0,456.4 100.0,456.0" fill="#fdc977"/>
<rect x="210.7" y="120.6" width="15.2" height="21.4" fill="#c0f19c"/>
<rect x="225.9" y="120.6" width="10.9" height="11.4" fill="#dcdcdc"/>
<rect x="227.0" y="108.0" width="9.8" height="10.0" fill="#c0f19c"/>
<rect x="176.0" y="216.3" width="13.4" height="11.0" fill="#c0f19c"/>
<rect x="157.0" y="216.3" width="19.0" height="11.0" fill="#dcdcdc"/>
<rect x="226.4" y="203.0" width="11.0" height="18.0" fill="#c0f19c"/>
<rect x="226.4" y="193.0" width="11.0" height="10.0" fill="#dcdcdc"/>
<rect x="188.6" y="227.6" width="11.9" height="24.4" fill="#c0f19c"/>
<rect x="211.7" y="238.6" width="12.3" height="14.4" fill="#c0f19c"/>
<rect x="237.5" y="168.8" width="9.8" height="23.2" fill="#dcdcdc"/>
<rect x="308.0" y="144.0" width="12.6" height="36.0" fill="#dcdcdc"/>
<rect x="282.7" y="197.0" width="13.6" height="53.0" fill="#dcdcdc"/>
<rect x="165.4" y="325.0" width="16.6" height="33.0" fill="#dcdcdc"/>
<rect x="152.8" y="325.0" width="12.6" height="20.4" fill="#fcdca6"/>
<rect x="153.0" y="411.0" width="36.4" height="7.5" fill="#fcdca6"/>
<rect x="152.8" y="418.5" width="13.2" height="32.5" fill="#dcdcdc"/>
<rect x="188.2" y="370.6" width="12.6" height="12.6" fill="#dcdcdc"/>
<rect x="188.2" y="393.3" width="12.6" height="25.2" fill="#dcdcdc"/>
<rect x="285.0" y="274.5" width="15.0" height="12.5" fill="#fcdca6"/>
<rect x="224.0" y="228.0" width="13.0" height="12.0" fill="#dcdcdc"/></g>
<polyline points="227.1,108.0 225.9,110.5 227.1,116.8 230.9,124.4 236.0,128.8 240.4,128.2 242.3,130.7 241.0,140.8 236.0,142.1 228.4,143.3 220.8,139.6 215.8,134.5 214.5,128.2 212.0,126.3 209.4,128.2 208.8,135.8 205.7,138.3 197.4,132.0" fill="none" stroke="#262626" stroke-width="1.6" stroke-linejoin="round"/>
<polyline points="179.1,152.8 190.5,154.1 203.1,154.7 206.8,155.5 206.0,161.0 208.4,167.4 214.7,169.7 221.0,167.4 230.5,168.1 237.6,168.9 241.5,161.0 241.8,158.9 254.9,160.1 262.5,150.0 270.1,138.3 270.1,113.7" fill="none" stroke="#262626" stroke-width="1.6" stroke-linejoin="round"/>
<polyline points="214.7,169.7 217.8,178.4 213.1,184.7 221.0,192.6 227.3,194.2 230.5,186.3 235.2,178.4 237.6,168.9" fill="none" stroke="#262626" stroke-width="1.6" stroke-linejoin="round"/>
<polyline points="227.3,194.2 228.9,205.2 229.8,210.0 230.5,218.0" fill="none" stroke="#262626" stroke-width="1.6" stroke-linejoin="round"/>
<polyline points="168.5,191.8 178.4,191.8 187.9,197.3 198.9,200.5 206.8,203.6 213.1,208.4 219.4,216.3 224.1,227.3" fill="none" stroke="#262626" stroke-width="1.6" stroke-linejoin="round"/>
<polyline points="230.5,218.0 231.3,217.8 241.2,215.7 254.0,220.7 272.4,221.4" fill="none" stroke="#262626" stroke-width="1.6" stroke-linejoin="round"/>
<polyline points="230.5,218.0 224.1,227.3 219.9,238.4 218.5,252.6" fill="none" stroke="#262626" stroke-width="1.6" stroke-linejoin="round"/>
<polyline points="162.6,200.5 167.3,203.6 170.5,210.0 170.5,217.9 178.4,221.0 187.9,227.3 195.7,235.2 200.5,244.7 202.0,252.6" fill="none" stroke="#262626" stroke-width="1.6" stroke-linejoin="round"/>
<polyline points="194.7,253.4 202.0,252.6 210.5,252.8 218.5,252.6 225.0,254.0 230.7,259.3 230.0,269.0 229.3,280.0 229.6,299.0 229.4,313.4 207.3,313.4" fill="none" stroke="#262626" stroke-width="1.6" stroke-linejoin="round"/>
<polyline points="194.7,253.4 194.7,257.4 197.8,265.2 201.0,276.3 204.1,285.8 207.3,298.4 207.3,313.4 182.0,313.4" fill="none" stroke="#262626" stroke-width="1.6" stroke-linejoin="round"/>
<polyline points="152.1,258.9 163.1,255.8 169.4,255.0 174.2,258.9 182.0,255.8 189.9,257.4 194.7,257.4" fill="none" stroke="#262626" stroke-width="1.6" stroke-linejoin="round"/>
<polyline points="182.0,313.4 182.3,337.5 182.3,356.8 184.7,358.4" fill="none" stroke="#262626" stroke-width="1.6" stroke-linejoin="round"/>
<polyline points="149.4,315.8 152.1,323.6 160.0,328.4 168.9,334.7 178.9,336.3 183.1,337.9 187.8,342.6 195.4,347.1 207.2,354.2 221.4,355.4 236.8,356.6 246.3,359.5 254.0,363.1" fill="none" stroke="#262626" stroke-width="1.6" stroke-linejoin="round"/>
<polyline points="184.7,358.4 175.2,363.1 165.7,369.4 158.9,372.6 156.3,374.2 151.0,382.1 142.1,383.6 138.4,388.4 128.4,389.2" fill="none" stroke="#262626" stroke-width="1.6" stroke-linejoin="round"/>
<polyline points="127.5,402.9 229.0,402.9" fill="none" stroke="#262626" stroke-width="1.6" stroke-linejoin="round"/>
<polyline points="130.4,462.6 191.0,462.6" fill="none" stroke="#262626" stroke-width="1.6" stroke-linejoin="round"/>
<polyline points="254.4,290.3 254.2,383.8 258.1,386.2 262.8,388.5" fill="none" stroke="#262626" stroke-width="1.6" stroke-linejoin="round"/>
<polyline points="229.6,299.0 254.4,299.0" fill="none" stroke="#262626" stroke-width="1.6" stroke-linejoin="round"/>
<polyline points="254.4,290.3 263.9,289.5" fill="none" stroke="#262626" stroke-width="1.6" stroke-linejoin="round"/>
<polyline points="272.4,221.4 273.9,229.9 277.4,236.3 273.9,244.1 271.0,251.9 273.9,258.3 278.1,268.2 271.0,278.2 263.9,289.5" fill="none" stroke="#262626" stroke-width="1.6" stroke-linejoin="round"/>
<polyline points="263.9,289.5 279.5,289.5 292.3,278.2 298.0,278.2 300.4,274.5" fill="none" stroke="#262626" stroke-width="1.6" stroke-linejoin="round"/>
<polyline points="300.4,274.5 295.4,268.2 293.5,260.6 294.1,250.5 300.4,246.7 306.7,239.2 309.9,231.6 310.5,224.0 310.5,218.6 312.8,212.7 317.6,204.4 318.8,197.3 321.1,195.0 322.3,187.9 324.7,183.1 328.3,180.0" fill="none" stroke="#262626" stroke-width="1.6" stroke-linejoin="round"/>
<polyline points="300.4,274.5 310.5,279.6 320.6,283.3 327.4,286.5" fill="none" stroke="#262626" stroke-width="1.6" stroke-linejoin="round"/>
<polyline points="310.2,229.0 320.6,227.2 329.4,227.8 334.5,231.6 337.0,236.6" fill="none" stroke="#262626" stroke-width="1.6" stroke-linejoin="round"/>
<polyline points="279.7,195.0 321.1,195.0" fill="none" stroke="#262626" stroke-width="1.6" stroke-linejoin="round"/>
<polyline points="278.5,160.1 279.7,173.7 279.7,195.0 277.9,206.8 275.0,218.6 272.4,221.4" fill="none" stroke="#262626" stroke-width="1.6" stroke-linejoin="round"/>
<polyline points="254.9,160.1 278.5,160.1" fill="none" stroke="#262626" stroke-width="1.6" stroke-linejoin="round"/>
<polyline points="270.1,138.3 277.7,140.8 285.3,145.9 292.8,150.9 301.0,157.1 310.5,166.6 319.9,172.5 328.2,178.4" fill="none" stroke="#262626" stroke-width="1.6" stroke-linejoin="round"/>
<polyline points="364.0,185.5 368.4,198.1" fill="none" stroke="#262626" stroke-width="1.6" stroke-linejoin="round"/>
<polygon points="198.1,117.5 201.9,111.1 205.7,108.6 209.4,106.7 212.0,102.9 215.8,105.5 219.5,107.4 228.4,107.4 236.0,108.0 238.5,113.0 240.4,118.1 243.5,109.9 246.1,106.1 253.6,105.5 263.7,106.1 266.3,108.0 270.1,113.7 275.2,119.4 281.5,125.7 289.0,132.0 295.4,134.5 302.9,135.8 310.5,139.6 318.1,144.6 325.7,147.1 332.0,149.7 337.0,152.2 340.5,156.0 339.5,161.0 336.0,165.5 333.0,170.1 328.2,178.4 328.5,182.5 336.5,184.3 340.0,184.8 350.1,186.7 358.9,187.4 364.0,185.5 371.6,180.4 379.1,177.9 384.2,172.8 384.6,166.0 384.6,160.6 388.4,158.7 392.8,158.1 396.6,160.6 398.5,168.2 398.7,176.6 397.3,180.8 395.6,182.9 390.9,184.6 388.0,186.7 384.6,188.4 377.9,191.8 369.0,197.5 358.9,208.2 350.1,217.0 342.5,225.9 340.8,229.0 337.0,236.6 335.8,242.9 334.5,249.3 332.6,255.6 332.6,261.9 333.2,268.2 328.8,272.0 326.9,279.6 327.4,288.7 329.0,293.5 338.5,298.2 344.8,302.9 345.6,309.2 344.8,314.0 352.7,318.7 354.2,325.0 351.1,332.9 341.6,344.0 338.5,347.1 322.7,351.8 306.9,356.6 291.1,358.2 277.0,358.3 272.3,355.4 271.1,361.3 273.5,363.7 272.3,370.8 268.8,377.9 272.3,376.7 273.5,380.2 269.9,385.0 262.8,388.5 256.9,390.3 247.5,390.3 239.2,387.3 232.1,384.4 228.5,386.2 227.9,393.3 229.7,399.2 229.0,402.9 231.5,405.7 236.5,407.6 237.8,409.5 240.3,407.6 242.9,405.7 247.9,403.8 251.1,407.0 251.7,411.4 250.4,415.2 245.4,416.5 242.2,414.6 241.0,411.4 238.4,410.8 232.8,411.4 230.2,413.9 232.1,415.8 239.7,418.3 233.4,420.9 229.0,423.4 225.8,427.2 225.2,430.3 224.9,435.8 221.0,445.2 209.9,448.4 200.5,453.1 192.6,459.4 191.0,464.2 194.1,470.5 203.6,476.8 216.2,480.0 219.4,486.3 216.9,491.4 210.6,496.4 203.0,500.2 196.7,504.0 191.6,509.0 189.7,514.1 189.1,519.1 185.3,522.9 177.8,524.2 171.5,528.0 168.9,533.0 168.9,539.3 170.2,545.6 174.0,551.9 179.0,556.3 175.2,554.4 162.6,552.6 150.0,552.0 146.8,552.1 127.9,551.3 123.1,547.3 121.5,541.0 120.0,534.7 115.2,533.1 107.3,531.6 105.8,523.7 102.6,515.8 105.8,511.0 112.1,504.7 113.7,505.2 118.4,494.2 123.1,483.1 128.7,472.1 130.2,462.6 131.0,457.9 135.8,451.6 126.3,445.2 137.3,440.5 129.4,435.8 127.9,429.5 127.1,424.0 125.5,415.2 126.3,405.7 127.9,397.8 128.7,390.0 128.1,385.0 128.9,378.9 130.5,367.8 133.6,358.4 140.7,353.6 140.0,344.2 138.4,331.6 139.2,323.7 143.1,320.5 149.4,315.8 147.8,307.9 149.4,300.0 150.5,296.8 153.6,290.5 156.8,284.2 156.0,276.3 155.2,268.4 152.1,258.9 150.5,254.2 147.3,246.3 148.4,241.5 151.6,235.2 154.7,230.5 156.3,222.6 156.3,214.7 159.4,206.8 162.6,200.5 167.3,194.2 170.5,187.9 173.6,181.6 178.4,180.0 180.0,173.7 177.6,165.8 176.8,156.3 179.1,152.8 177.2,149.7 177.9,145.9 181.7,142.1 190.5,137.0 195.6,134.5 197.4,132.0 199.3,121.9" fill="none" stroke="#262626" stroke-width="1.7" stroke-linejoin="round"/>
<polygon points="175.5,562.5 178.6,564.0 181.7,567.2 182.5,571.1 188.8,576.6 198.1,581.3 207.5,586.0 216.9,589.8 227.8,591.4 226.3,594.5 213.8,595.3 201.3,595.3 187.2,595.3 175.5,593.8" fill="none" stroke="#262626" stroke-width="1.4" stroke-linejoin="round"/>
<polygon points="284.7,547.6 289.0,544.5 295.8,540.9 305.0,541.2 314.7,542.9 306.0,550.8 300.0,552.5 295.8,553.9 290.0,550.5" fill="#fff" stroke="#111" stroke-width="2.4" stroke-linejoin="round"/>
<polygon points="284.2,546.8 291.8,545.6 296.5,551.6 290.3,553.6" fill="#111"/>
<polyline points="317.1,544.5 312.0,551.0 309.2,557.1" fill="none" stroke="#111" stroke-width="2.2"/>
<ellipse cx="325.4" cy="546.4" rx="6.2" ry="3.7" fill="#fff" stroke="#111" stroke-width="2.4"/>
<polygon points="330.5,541.9 338.4,543.5 339.0,547.6 331.3,548.8" fill="#111"/>
<circle cx="308.4" cy="555.5" r="1.3" fill="#111"/>
<circle cx="313.9" cy="553.9" r="1.1" fill="#111"/>
<circle cx="327.3" cy="552.3" r="1.2" fill="#111"/>
<circle cx="324.2" cy="553.1" r="1.0" fill="#111"/>
<circle cx="288.2" cy="537.6" r="0.9" fill="#111"/>
<ellipse cx="23.7" cy="278.8" rx="2.2" ry="1.6" fill="#222"/>
<circle cx="97.4" cy="348.9" r="0.9" fill="#333"/>
<polyline points="234.0,593.0 248.0,592.0" fill="none" stroke="#111" stroke-width="2.2"/>
<clipPath id="cr"><polygon points="703.1,114.2 706.9,107.8 710.7,105.3 714.4,103.4 717.0,99.6 720.8,102.2 724.5,104.1 733.4,104.1 741.0,104.7 743.5,109.7 745.4,114.8 748.5,106.6 751.1,102.8 758.6,102.2 768.7,102.8 771.3,104.7 775.1,110.4 780.2,116.1 786.5,122.4 794.0,128.7 800.4,131.2 807.9,132.5 815.5,136.3 823.1,141.3 830.7,143.8 837.0,146.4 842.0,148.9 845.5,152.7 844.5,157.7 841.0,162.2 838.0,166.8 833.2,175.1 833.5,179.2 841.5,181.0 845.0,181.5 855.1,183.4 863.9,184.1 869.0,182.2 876.6,177.1 884.1,174.6 889.2,169.5 889.6,162.7 889.6,157.3 893.4,155.4 897.8,154.8 901.6,157.3 903.5,164.9 903.7,173.3 902.3,177.5 900.6,179.6 895.9,181.3 893.0,183.4 889.6,185.1 882.9,188.5 874.0,194.2 863.9,204.9 855.1,213.7 847.5,222.6 845.8,225.7 842.0,233.3 840.8,239.6 839.5,246.0 837.6,252.3 837.6,258.6 838.2,264.9 833.8,268.7 831.9,276.3 832.4,285.4 834.0,290.2 843.5,294.9 849.8,299.6 850.6,305.9 849.8,310.7 857.7,315.4 859.2,321.7 856.1,329.6 846.6,340.7 843.5,343.8 827.7,348.5 811.9,353.3 796.1,354.9 782.0,355.0 777.3,352.1 776.1,358.0 778.5,360.4 777.3,367.5 773.8,374.6 777.3,373.4 778.5,376.9 774.9,381.7 767.8,385.2 761.9,387.0 752.5,387.0 744.2,384.0 737.1,381.1 733.5,382.9 732.9,390.0 734.7,395.9 734.0,399.6 736.5,402.4 741.5,404.3 742.8,406.2 745.3,404.3 747.9,402.4 752.9,400.5 756.1,403.7 756.7,408.1 755.4,411.9 750.4,413.2 747.2,411.3 746.0,408.1 743.4,407.5 737.8,408.1 735.2,410.6 737.1,412.5 744.7,415.0 738.4,417.6 734.0,420.1 730.8,423.9 730.2,427.0 729.9,432.5 726.0,441.9 714.9,445.1 705.5,449.8 697.6,456.1 696.0,460.9 699.1,467.2 708.6,473.5 721.2,476.7 724.4,483.0 721.9,488.1 715.6,493.1 708.0,496.9 701.7,500.7 696.6,505.7 694.7,510.8 694.1,515.8 690.3,519.6 682.8,520.9 676.5,524.7 673.9,529.7 673.9,536.0 675.2,542.3 679.0,548.6 684.0,553.0 680.2,551.1 667.6,549.3 655.0,548.7 651.8,548.8 632.9,548.0 628.1,544.0 626.5,537.7 625.0,531.4 620.2,529.8 612.3,528.3 610.8,520.4 607.6,512.5 610.8,507.7 617.1,501.4 618.7,501.9 623.4,490.9 628.1,479.8 633.7,468.8 635.2,459.3 636.0,454.6 640.8,448.3 631.3,441.9 642.3,437.2 634.4,432.5 632.9,426.2 632.1,420.7 630.5,411.9 631.3,402.4 632.9,394.5 633.7,386.7 633.1,381.7 633.9,375.6 635.5,364.5 638.6,355.1 645.7,350.3 645.0,340.9 643.4,328.3 644.2,320.4 648.1,317.2 654.4,312.5 652.8,304.6 654.4,296.7 655.5,293.5 658.6,287.2 661.8,280.9 661.0,273.0 660.2,265.1 657.1,255.6 655.5,250.9 652.3,243.0 653.4,238.2 656.6,231.9 659.7,227.2 661.3,219.3 661.3,211.4 664.4,203.5 667.6,197.2 672.3,190.9 675.5,184.6 678.6,178.3 683.4,176.7 685.0,170.4 682.6,162.5 681.8,153.0 684.1,149.5 682.2,146.4 682.9,142.6 686.7,138.8 695.5,133.7 700.6,131.2 702.4,128.7 704.3,118.6"/><polygon points="680.5,559.2 683.6,560.7 686.7,563.9 687.5,567.8 693.8,573.3 703.1,578.0 712.5,582.7 721.9,586.5 732.8,588.1 731.3,591.2 718.8,592.0 706.3,592.0 692.2,592.0 680.5,590.5"/></clipPath>
<polyline points="658.6,86.4 659.9,93.3 658.3,106.0 657.0,117.3 651.9,118.6 651.3,124.3 654.5,125.5 653.8,137.5 652.6,150.1 650.7,160.2 648.7,171.9 647.1,181.4 645.5,190.9 640.8,200.3 639.2,209.8 640.8,216.1 637.6,224.0 636.0,231.9 636.7,238.7 638.1,249.3 638.9,260.4 635.0,271.4 631.8,282.5 628.7,291.9 626.8,296.7 622.9,304.6 616.6,317.2 613.4,323.5 607.9,326.7 606.3,334.6 608.7,344.0 611.8,356.7 608.7,367.7 604.7,372.4 602.4,385.1 602.4,391.4 605.5,396.7" fill="none" stroke="#1e1e1e" stroke-width="1.4" stroke-linejoin="round"/>
<polyline points="682.2,86.4 686.7,89.5 689.2,98.4 691.7,106.0 693.0,114.2 698.0,115.0 703.1,114.2" fill="none" stroke="#1e1e1e" stroke-width="1.4" stroke-linejoin="round"/>
<polyline points="771.3,104.7 776.4,86.4" fill="none" stroke="#1e1e1e" stroke-width="1.4" stroke-linejoin="round"/>
<polyline points="840.8,86.4 840.1,103.4 853.4,106.0 862.2,103.4 872.3,107.2 874.8,112.3 876.1,124.9 878.6,131.8 882.0,132.1 889.6,129.5 894.7,132.7 895.3,137.1 894.0,146.0 890.9,153.5 889.6,157.3" fill="none" stroke="#1e1e1e" stroke-width="1.4" stroke-linejoin="round"/>
<polyline points="1003.3,137.7 997.0,141.5 988.1,147.2 983.1,152.3 978.0,153.5 977.4,162.4 979.3,171.2 981.8,183.8 976.7,200.2 968.8,205.5 963.0,212.3 958.1,219.2 953.2,229.0 945.4,237.8 938.5,243.6" fill="none" stroke="#1e1e1e" stroke-width="1.4" stroke-linejoin="round"/>
<polyline points="928.8,243.6 933.7,239.7 937.6,235.8 939.5,230.9 939.5,222.1 943.4,226.0 949.3,224.1 950.3,227.0 945.4,233.8 941.5,239.7 938.5,243.6" fill="none" stroke="#1e1e1e" stroke-width="1.4" stroke-linejoin="round"/>
<polyline points="847.5,223.8 855.9,223.2 861.4,226.4 864.7,229.5 869.8,237.1 874.8,234.6 881.2,239.6 890.0,243.4" fill="none" stroke="#1e1e1e" stroke-width="1.4" stroke-linejoin="round"/>
<polyline points="832.6,282.7 840.8,287.6 847.1,287.6 854.6,289.5" fill="none" stroke="#1e1e1e" stroke-width="1.4" stroke-linejoin="round"/>
<polyline points="615.2,395.6 624.6,392.5 623.0,401.9 616.7,416.1 613.6,430.3 619.9,436.6 613.6,444.5 612.0,455.5 602.6,465.0 591.5,472.9" fill="none" stroke="#222" stroke-width="1.2"/>
<polygon points="600.2,397.2 607.3,397.2 605.7,405.1 604.9,417.7 597.0,419.3 598.6,408.2" fill="#fff" stroke="#222" stroke-width="1.2"/>
<g fill="#fff" stroke="#111" stroke-width="1.4" stroke-linejoin="round"><polygon points="614.3,425.2 614.2,422.9 616.7,420.6 617.9,421.3 616.3,423.8"/><polygon points="608.8,422.3 608.6,420.2 609.8,416.2 610.8,417.6 610.0,420.5"/><polygon points="604.2,419.5 602.7,417.7 602.4,415.3 604.3,414.6 605.0,417.3"/><polygon points="611.2,429.3 614.3,426.8 617.3,425.6 617.9,426.4 614.7,429.0"/><polygon points="607.7,427.6 607.9,425.5 609.5,422.4 610.6,421.7 610.6,423.1 609.2,426.7"/><polygon points="603.7,424.9 603.5,423.3 605.2,421.1 606.9,420.4 607.9,420.9 606.7,422.8 605.3,424.7"/><polygon points="614.2,430.3 615.0,428.9 617.0,427.8 616.9,429.6 615.8,430.9"/><polygon points="606.9,427.8 607.4,426.2 608.7,424.4 610.5,424.3 610.0,426.2 608.5,428.1"/><polygon points="603.5,426.0 602.2,424.2 602.1,422.4 603.3,421.7 604.5,424.0"/><polygon points="614.2,433.2 613.0,432.6 613.4,430.4 614.6,429.9 616.1,429.1 616.4,431.2 615.3,432.6"/><polygon points="605.0,431.0 604.4,428.8 606.0,426.0 607.5,424.1 608.2,426.0 606.6,428.9"/><polygon points="598.0,426.9 598.0,425.8 600.5,422.5 601.6,421.9 601.3,423.2 599.2,426.2"/><polygon points="615.5,439.1 614.9,438.1 615.1,436.0 615.8,434.4 616.9,434.2 617.0,436.3 616.5,438.4"/><polygon points="605.3,433.6 605.1,432.3 606.5,431.2 607.6,431.2 608.0,432.3 606.6,433.7"/><polygon points="602.7,434.0 602.7,431.4 605.7,429.4 607.0,430.0 605.2,433.4"/><polygon points="595.6,430.9 594.9,428.7 594.3,426.2 594.6,424.2 595.4,423.6 595.9,426.3 596.2,429.2"/><polygon points="611.1,438.5 611.0,436.8 612.7,433.9 614.2,432.4 613.6,434.8 612.6,437.3"/><polygon points="607.8,436.5 606.9,435.4 608.6,432.4 610.4,432.0 611.9,431.8 611.3,434.3 609.2,436.5"/><polygon points="602.2,433.9 601.2,431.7 602.1,429.2 602.9,429.1 602.9,431.3"/><polygon points="592.7,429.4 594.4,427.7 596.6,425.8 597.5,426.1 596.9,427.2 594.4,429.1"/><polygon points="611.4,445.6 611.2,441.9 612.1,436.9 613.3,436.8 613.8,438.3 613.0,441.6"/><polygon points="603.9,438.3 603.7,436.2 603.9,434.0 605.0,433.9 604.6,436.3"/><polygon points="601.3,436.8 600.4,435.9 601.4,433.0 602.9,432.0 602.8,434.2 602.3,435.8"/><polygon points="594.3,432.9 593.8,431.8 594.5,430.4 595.9,429.8 596.4,431.2 595.5,432.7"/><polygon points="611.2,443.4 611.3,441.7 612.8,440.6 614.1,440.1 614.3,441.4 612.8,443.0"/><polygon points="605.3,439.8 604.0,439.6 603.7,438.0 603.9,436.4 605.2,436.4 606.0,437.5 606.3,439.0"/><polygon points="597.9,437.6 597.7,435.5 598.6,433.2 599.9,433.8 599.2,436.0"/><polygon points="592.6,435.2 592.3,433.7 593.2,431.9 594.8,431.4 595.2,432.4 595.4,433.7 594.1,434.3"/><polygon points="609.5,444.0 609.0,443.2 608.5,441.6 609.1,441.3 609.8,441.4 610.1,443.5"/><polygon points="598.4,443.8 601.1,439.9 605.2,436.7 605.4,438.1 602.5,441.5"/><polygon points="598.0,441.4 600.1,438.8 602.6,437.4 603.3,438.1 601.0,440.5"/><polygon points="590.4,437.4 589.7,436.1 590.9,433.1 591.8,432.3 592.7,433.0 591.7,436.5"/><polygon points="607.2,449.6 607.5,448.2 610.1,446.1 611.7,446.3 612.0,446.9 611.4,448.4 608.3,450.2"/><polygon points="603.1,448.2 602.3,445.9 602.0,443.2 603.0,440.8 604.3,442.8 604.2,446.2"/><polygon points="593.1,444.5 593.4,442.4 594.6,440.1 596.0,439.1 597.3,438.7 596.6,441.2 594.9,443.1"/><polygon points="591.7,442.2 590.6,441.4 590.2,439.1 590.6,436.7 591.9,436.6 592.7,438.9 592.6,441.1"/><polygon points="604.4,450.6 605.4,448.5 608.4,447.0 610.6,447.1 608.9,449.0 607.1,450.1"/><polygon points="606.1,452.8 604.7,451.3 603.9,446.8 604.9,444.7 605.9,443.0 606.6,447.0 606.8,450.3"/><polygon points="597.1,445.4 597.1,444.7 598.6,443.3 599.4,443.5 598.8,444.4 597.8,445.5"/><polygon points="593.6,444.4 593.4,443.1 594.7,442.1 595.9,441.9 596.3,443.1 594.9,444.1"/><polygon points="582.9,442.2 585.2,440.2 588.7,438.1 591.3,437.2 589.5,439.0 585.0,441.8"/><polygon points="609.0,455.9 608.7,455.1 610.4,451.9 612.5,448.8 613.2,449.3 611.9,452.6 610.0,455.2"/><polygon points="599.8,451.5 601.1,450.1 602.9,448.4 605.8,446.8 605.7,447.8 603.8,449.7 601.2,451.1"/><polygon points="598.1,449.1 597.4,448.4 598.8,446.8 600.4,446.3 601.3,446.8 600.1,448.3 598.8,449.3"/><polygon points="591.6,449.9 592.5,446.5 595.0,441.4 595.9,441.6 593.6,446.9"/><polygon points="584.8,442.9 585.5,441.8 587.0,441.3 588.1,442.0 586.1,443.5"/><polygon points="608.3,455.1 607.7,454.2 609.5,452.1 611.9,451.2 612.3,452.4 610.9,454.1 609.3,455.2"/><polygon points="598.4,452.0 599.1,450.2 601.7,448.5 603.3,448.0 602.7,449.5 600.4,451.4"/><polygon points="593.4,448.8 593.8,447.7 596.5,445.4 597.5,445.6 597.6,446.6 594.5,448.6"/><polygon points="592.6,448.4 593.0,447.0 596.2,444.3 596.6,445.2 594.0,448.1"/><polygon points="580.9,446.4 583.4,443.6 585.2,441.4 587.6,439.8 588.0,440.2 585.7,442.5 583.5,444.6"/><polygon points="604.8,458.7 606.7,456.3 610.0,454.1 611.3,454.1 607.5,457.6"/><polygon points="598.7,455.7 598.7,452.8 600.4,449.4 601.9,450.3 600.8,453.7"/><polygon points="596.8,452.6 595.7,451.9 595.5,449.9 596.8,449.3 597.7,450.3 598.3,452.2"/><polygon points="589.0,450.3 588.3,449.7 589.5,446.9 590.8,446.1 591.5,446.2 591.5,447.8 590.0,449.9"/><polygon points="587.4,448.1 586.9,447.5 587.2,446.4 588.0,445.4 588.6,446.2 588.6,447.1 588.2,448.3"/><polygon points="604.7,460.0 604.1,458.1 605.2,456.4 606.2,456.5 605.9,458.3"/><polygon points="601.0,457.6 599.8,456.8 600.7,454.7 602.4,453.9 603.9,454.6 603.3,456.5 602.2,457.9"/><polygon points="597.7,457.5 596.1,455.3 597.6,452.1 598.9,453.2 599.0,455.2"/><polygon points="592.8,454.1 592.2,453.2 591.5,451.5 591.6,449.7 592.3,450.2 592.8,451.4 593.0,453.0"/><polygon points="582.7,449.8 582.4,448.6 583.7,446.0 585.0,446.5 585.4,447.7 584.0,449.7"/><polygon points="602.7,460.3 602.5,459.2 602.8,457.4 604.3,456.8 605.2,457.4 605.2,459.0 603.8,460.2"/><polygon points="596.4,459.4 596.4,458.0 598.3,456.3 600.5,454.7 600.2,456.4 599.8,457.8 597.6,459.8"/><polygon points="592.7,457.1 592.2,456.7 593.4,455.6 594.4,454.6 595.3,454.8 594.5,456.3 593.1,457.9"/><polygon points="589.9,457.3 590.5,455.6 591.7,454.6 593.5,454.0 592.9,455.7 591.6,456.7"/><polygon points="586.2,456.7 584.6,455.1 582.7,451.1 584.3,451.1 586.4,454.6"/><polygon points="605.9,465.6 604.7,465.6 605.8,461.8 606.7,460.1 608.2,457.8 607.6,462.1 607.1,466.2"/><polygon points="600.6,463.2 600.4,462.6 601.9,460.4 603.8,458.9 603.9,459.8 603.2,461.5 601.1,463.7"/><polygon points="594.7,464.3 594.0,461.0 594.7,455.5 595.6,457.3 595.7,461.1"/><polygon points="586.9,459.9 587.2,458.2 587.8,456.7 588.9,456.7 589.7,457.7 588.3,458.9"/><polygon points="583.7,460.8 583.0,459.1 582.7,456.1 583.2,453.4 584.1,454.1 584.7,456.1 584.3,458.8"/><polygon points="601.6,467.1 600.7,465.0 602.0,461.4 603.8,457.4 603.6,461.8 603.5,466.1"/><polygon points="602.6,464.2 601.5,464.4 601.0,462.3 601.3,461.0 602.5,461.7 603.5,463.7"/><polygon points="592.1,462.8 591.6,461.4 591.4,459.2 591.9,457.3 592.5,459.3 592.6,461.5"/><polygon points="585.4,462.3 583.9,461.0 585.1,457.3 586.6,454.2 587.2,457.5 586.5,460.1"/><polygon points="581.6,459.5 581.2,458.6 581.8,456.8 583.5,455.6 584.0,456.7 583.5,458.2 582.5,459.6"/><polygon points="600.9,469.9 603.0,467.0 606.6,464.7 608.8,465.0 604.0,469.3"/><polygon points="598.3,470.3 597.4,467.9 597.0,464.7 597.4,463.0 598.0,461.9 598.8,464.4 599.0,468.2"/><polygon points="591.3,467.5 590.1,466.2 589.0,461.7 589.3,460.2 590.3,461.9 591.0,464.7"/><polygon points="585.0,467.5 584.0,465.5 584.5,460.8 586.2,458.5 587.2,459.1 587.7,461.7 586.4,464.9"/><polygon points="584.1,463.7 582.8,463.0 582.3,461.3 582.9,460.2 584.3,460.5 585.0,462.5"/><polygon points="606.1,471.9 606.1,469.8 606.1,467.8 606.9,465.7 607.6,466.0 607.5,468.2 607.0,470.9"/><polygon points="595.7,467.9 594.7,467.3 594.5,465.3 595.5,464.2 596.4,464.4 596.9,465.6 596.8,467.3"/><polygon points="590.4,468.1 589.5,465.2 589.2,462.4 589.8,462.4 590.4,465.0"/><polygon points="588.7,469.2 587.6,465.6 587.4,461.3 587.9,459.9 588.6,464.9"/><polygon points="576.5,463.5 576.5,462.3 578.7,460.0 581.0,459.3 582.3,459.7 579.9,462.0 577.7,463.7"/><polygon points="601.7,475.4 603.3,473.8 605.3,472.0 607.3,471.0 608.6,470.8 606.0,473.0 603.0,475.3"/><polygon points="599.7,473.5 598.7,472.2 598.3,470.2 599.5,469.2 600.2,471.9"/><polygon points="593.4,471.6 593.0,471.1 592.6,469.5 593.1,467.6 593.9,467.6 594.0,469.8 593.8,471.3"/><polygon points="582.9,471.1 581.7,468.5 581.9,464.4 583.5,465.1 583.9,468.4"/><polygon points="579.0,468.6 578.5,467.9 579.0,464.8 580.0,463.5 580.1,465.7 579.9,468.4"/><polygon points="605.1,477.3 603.8,476.4 603.5,474.0 604.1,473.9 605.5,475.8"/><polygon points="593.9,476.0 593.2,474.8 594.5,470.4 595.8,469.5 596.6,470.8 595.1,475.0"/><polygon points="590.5,475.1 589.8,473.8 590.0,471.2 590.4,468.9 591.1,469.6 591.8,471.0 591.2,473.3"/><polygon points="583.7,473.1 585.0,471.5 587.0,469.4 589.0,468.8 589.4,469.3 587.8,471.0 585.0,473.0"/><polygon points="575.0,471.0 575.0,468.8 576.8,465.4 577.6,466.3 576.6,469.2"/><polygon points="604.6,478.7 603.2,477.6 602.2,475.8 602.9,474.5 604.1,475.4 604.7,477.0"/><polygon points="594.8,477.3 595.3,474.9 596.6,472.8 597.5,472.9 596.6,475.9"/><polygon points="592.6,475.0 591.6,474.4 592.0,472.4 592.9,472.2 593.2,474.2"/><polygon points="583.2,474.3 582.5,474.5 582.6,470.5 583.0,467.8 583.8,466.8 583.9,470.6 583.7,473.4"/><polygon points="578.1,472.7 577.0,471.6 575.3,468.0 575.5,466.7 576.7,468.4 577.8,470.8"/><polygon points="602.9,482.6 601.5,480.0 600.7,476.2 600.1,473.1 600.6,472.1 602.1,475.2 602.3,478.5"/><polygon points="597.3,478.9 597.3,477.8 598.5,475.5 600.4,473.4 600.4,475.0 599.9,476.6 598.5,478.1"/><polygon points="588.9,478.4 588.2,477.0 587.4,475.6 588.5,474.2 590.0,474.3 590.4,476.0 590.0,477.3"/><polygon points="583.4,481.7 583.5,477.6 583.9,473.6 584.9,471.2 585.1,474.1 584.6,478.8"/><polygon points="577.2,480.1 574.7,477.6 573.4,472.4 574.9,472.2 577.4,476.6"/><polygon points="604.1,480.9 602.6,479.3 603.6,476.1 605.0,476.3 605.9,479.5"/><polygon points="595.2,480.7 594.3,478.9 594.0,475.3 594.8,474.3 595.6,478.8"/><polygon points="591.9,480.0 591.4,478.2 591.8,475.3 592.9,476.1 592.9,478.4"/><polygon points="583.0,480.8 581.8,478.3 582.2,475.5 583.4,474.1 584.2,478.4"/><polygon points="576.0,479.8 576.4,478.3 577.7,476.0 579.4,474.4 579.8,474.9 579.1,476.9 577.1,479.5"/><polygon points="603.1,484.7 602.0,483.2 601.2,478.5 601.4,476.2 602.4,477.7 603.2,482.3"/><polygon points="597.2,483.8 594.7,482.1 594.0,477.7 595.5,477.1 597.5,480.7"/><polygon points="589.7,481.7 590.0,480.5 590.6,478.8 592.3,477.4 592.6,478.4 592.1,480.0 590.6,481.8"/><polygon points="585.6,482.9 584.6,480.6 584.0,475.9 585.6,476.6 586.5,480.7"/><polygon points="578.4,482.3 577.5,482.1 577.1,478.7 577.0,475.5 577.9,476.3 578.6,478.5 579.2,482.0"/><polygon points="601.3,487.8 599.5,486.2 598.1,484.0 598.0,482.6 599.2,483.4 600.7,485.6"/><polygon points="598.7,488.1 597.2,486.8 596.6,484.4 596.7,482.8 597.5,482.4 598.5,483.8 598.7,485.7"/><polygon points="585.5,486.3 586.4,484.6 587.7,482.8 588.4,483.0 588.6,483.7 587.1,485.1"/><polygon points="582.4,486.7 581.8,485.3 582.2,482.6 583.9,481.6 584.8,482.2 584.7,484.0 583.9,486.6"/><polygon points="580.7,485.2 579.1,485.1 578.0,482.9 579.2,482.1 580.6,483.7"/><polygon points="602.3,488.0 600.1,487.2 599.9,483.3 600.9,482.1 602.6,485.7"/><polygon points="597.1,486.8 596.2,485.9 597.1,482.9 598.6,483.1 598.8,484.4 598.3,486.1"/><polygon points="586.0,486.5 586.5,485.1 587.5,483.1 588.8,483.0 590.1,482.7 588.9,484.7 587.4,485.7"/><polygon points="585.2,488.9 583.5,485.6 583.0,480.8 584.8,481.3 586.1,485.5"/><polygon points="577.8,485.8 577.6,484.6 578.4,482.8 579.6,482.2 580.3,483.2 578.8,485.1"/><polygon points="602.6,490.7 601.9,489.6 602.7,487.8 603.8,487.4 603.7,490.0"/><polygon points="594.7,493.4 593.8,490.3 593.4,487.0 594.2,484.9 595.1,487.1 595.7,491.2"/><polygon points="587.1,490.0 586.3,489.8 585.3,488.1 586.1,487.1 586.8,486.5 587.6,487.8 587.6,489.3"/><polygon points="580.8,490.2 580.3,489.1 580.5,485.9 581.1,486.6 581.3,489.0"/><polygon points="577.1,491.3 577.1,488.8 579.4,485.0 580.7,485.0 578.9,489.2"/><polygon points="602.0,493.6 601.5,492.7 602.4,491.1 603.2,489.5 603.9,490.0 604.2,491.5 602.9,492.6"/><polygon points="598.0,494.7 596.7,494.2 596.5,490.7 597.1,488.5 598.4,487.1 599.0,490.6 599.1,493.6"/><polygon points="590.0,495.1 587.7,492.8 586.0,487.4 588.0,487.8 589.7,491.6"/><polygon points="584.0,492.5 583.5,491.8 583.6,490.3 584.2,488.9 585.0,488.8 585.0,490.5 584.6,492.0"/><polygon points="575.9,494.0 576.0,491.8 577.8,488.8 579.6,487.1 579.0,489.6 577.7,492.0"/><polygon points="601.7,496.5 601.7,493.6 603.4,490.2 604.6,490.6 603.7,494.4"/><polygon points="594.0,496.5 594.0,493.3 594.5,489.4 595.3,489.7 595.0,493.8"/><polygon points="585.5,493.5 585.2,492.1 586.8,489.9 587.9,491.2 586.8,493.1"/><polygon points="582.3,496.3 582.5,494.3 583.3,491.0 584.9,486.9 585.0,488.9 584.3,491.6 583.2,495.9"/><polygon points="578.9,494.0 577.3,493.0 576.5,489.4 578.6,488.8 579.7,492.3"/><polygon points="601.8,499.7 602.0,497.0 604.1,494.0 605.1,495.0 604.1,498.6"/><polygon points="594.2,499.2 592.5,498.1 590.6,495.3 590.8,493.6 592.4,494.4 594.6,497.4"/><polygon points="587.1,498.5 586.6,497.2 586.6,493.9 587.6,493.6 588.4,494.1 587.8,497.3"/><polygon points="582.3,498.1 580.7,497.1 581.0,495.0 581.8,493.4 583.2,494.6 583.0,496.4"/><polygon points="579.6,497.4 578.4,496.6 577.6,493.8 578.9,493.5 580.1,496.0"/><polygon points="600.4,498.8 599.5,498.3 600.9,494.4 602.5,491.6 602.3,494.9 601.4,499.0"/><polygon points="596.5,498.7 595.7,498.5 596.0,495.9 596.9,493.9 597.8,494.2 597.9,496.2 597.3,499.0"/><polygon points="588.8,502.1 589.4,498.6 591.9,494.2 592.6,494.3 590.9,498.2"/><polygon points="584.6,499.8 584.1,499.2 584.3,496.4 584.9,495.4 585.3,496.5 585.0,498.7"/><polygon points="576.4,502.1 576.4,498.9 577.3,496.7 578.9,495.8 578.0,499.5"/><polygon points="606.3,501.6 604.6,501.4 603.2,499.8 602.6,498.3 603.0,496.9 604.8,498.4 605.8,499.8"/><polygon points="592.3,503.8 591.3,501.7 592.4,497.9 594.0,496.4 593.6,501.8"/><polygon points="588.2,505.2 588.4,502.2 589.1,499.2 589.9,498.1 590.5,498.7 589.4,502.6"/><polygon points="585.0,503.9 583.5,503.4 582.8,500.4 583.0,498.5 584.3,499.8 585.4,502.3"/><polygon points="578.8,505.6 577.0,502.9 577.8,500.2 579.2,498.8 579.8,502.5"/><polygon points="602.1,503.7 600.3,503.0 598.7,499.5 599.1,497.3 601.2,498.3 603.1,502.0"/><polygon points="596.8,505.0 596.7,502.1 597.6,499.2 598.9,498.3 599.7,499.5 598.6,503.2"/><polygon points="591.2,503.5 591.7,501.9 592.5,500.3 593.4,500.0 593.6,500.8 592.5,502.4"/><polygon points="583.4,504.2 583.2,503.0 583.7,501.1 585.1,499.8 585.9,500.4 586.0,502.2 584.5,504.0"/><polygon points="578.6,504.0 577.7,504.4 577.4,502.7 577.4,501.3 578.3,501.2 579.0,502.2 579.3,503.5"/><polygon points="604.1,506.8 603.4,507.6 601.4,505.1 600.3,503.5 600.9,503.0 602.6,503.4 604.7,505.9"/><polygon points="595.1,507.5 594.6,506.0 595.4,504.4 596.5,503.8 596.4,506.5"/><polygon points="593.4,509.1 591.8,507.7 591.3,503.5 591.9,501.6 593.6,506.8"/><polygon points="579.4,511.6 579.4,507.7 581.8,504.3 583.8,503.4 581.9,508.2"/><polygon points="578.0,508.5 577.2,508.5 577.4,506.7 577.8,505.3 578.4,505.8 578.7,506.9 578.6,508.1"/><polygon points="605.6,509.4 604.0,508.5 602.8,506.5 602.5,504.8 604.0,505.8 605.5,507.6"/><polygon points="595.4,510.4 594.6,509.4 593.7,507.4 593.9,505.9 594.3,504.8 595.3,507.0 596.0,509.8"/><polygon points="590.6,511.0 589.3,509.5 590.2,507.1 591.2,505.9 591.9,507.4 592.3,510.1"/><polygon points="584.1,512.6 583.2,509.7 584.8,505.5 586.1,506.7 586.1,510.3"/><polygon points="578.1,512.9 577.1,510.8 576.2,508.9 576.7,507.0 577.6,506.1 578.2,508.9 579.0,511.4"/><polygon points="600.6,512.9 599.5,511.0 599.1,506.4 600.4,505.7 601.9,506.1 601.4,510.7"/><polygon points="594.6,512.4 592.7,511.6 591.1,506.5 592.6,505.9 594.4,510.1"/><polygon points="588.4,511.9 587.3,510.7 587.6,509.2 588.7,508.8 589.2,510.5"/><polygon points="583.4,514.7 584.1,511.3 585.1,508.7 586.9,506.5 586.4,509.5 585.4,512.5"/><polygon points="574.6,514.7 574.4,512.1 575.7,508.8 576.7,508.9 576.2,512.9"/><polygon points="605.6,514.2 605.3,512.8 606.3,511.0 607.2,510.8 606.7,513.2"/><polygon points="600.4,515.2 599.5,513.7 599.1,512.4 599.5,511.6 600.4,511.6 600.9,513.8"/><polygon points="587.9,516.7 587.6,514.5 588.3,512.6 589.0,512.6 589.0,514.8"/><polygon points="584.1,517.5 583.9,516.7 585.5,512.8 587.1,510.2 587.1,511.6 586.7,513.5 585.0,516.7"/><polygon points="577.6,517.1 576.1,516.2 574.8,513.4 575.6,513.1 577.1,515.3"/><polygon points="607.2,514.6 606.0,514.3 604.9,512.6 603.9,510.8 604.6,509.9 606.2,511.5 606.8,513.0"/><polygon points="594.6,517.1 595.7,513.5 598.0,510.6 599.5,511.0 597.5,515.4"/><polygon points="591.1,516.9 591.9,514.6 595.2,509.5 595.1,511.1 592.8,515.5"/><polygon points="583.9,516.3 583.5,514.8 583.4,512.7 585.1,512.9 585.5,514.1 585.2,515.5"/><polygon points="580.0,516.1 578.8,515.7 580.3,513.7 582.0,512.0 582.1,513.7 582.1,514.9 580.9,517.0"/><polygon points="603.3,517.9 602.2,517.1 601.5,516.1 601.3,514.5 602.5,514.6 603.7,515.1 604.4,517.0"/><polygon points="595.5,520.5 596.0,518.2 597.5,515.3 599.2,513.5 600.8,512.7 599.2,516.2 597.0,520.3"/><polygon points="588.5,519.7 588.5,517.3 590.6,514.4 591.1,516.3 590.5,518.2"/><polygon points="581.4,521.2 580.4,519.3 580.6,516.7 581.6,515.4 582.5,516.7 582.8,519.8"/><polygon points="581.8,520.7 580.1,520.1 579.0,514.9 580.4,515.2 582.2,518.8"/><polygon points="603.8,520.5 603.6,516.4 605.4,511.5 606.4,513.0 605.9,516.9"/><polygon points="600.2,519.6 598.9,518.9 599.3,515.0 600.3,513.8 601.5,514.6 601.5,518.8"/><polygon points="589.9,522.4 589.0,519.7 589.8,516.2 591.5,517.1 591.3,520.0"/><polygon points="585.1,523.4 583.9,523.5 581.0,521.3 579.5,518.6 580.6,518.1 583.0,519.5 584.7,521.9"/><polygon points="578.5,525.0 576.9,523.8 575.9,518.7 577.7,520.3 578.8,522.9"/><polygon points="610.1,522.4 608.5,522.0 606.3,520.0 604.3,517.9 604.0,516.2 607.3,518.5 610.0,521.1"/><polygon points="601.8,523.3 600.0,522.6 597.5,520.4 598.8,520.0 601.6,521.6"/><polygon points="597.1,525.0 595.6,524.1 594.4,523.0 593.0,521.4 593.9,521.5 595.1,521.9 596.7,523.8"/><polygon points="586.3,526.8 585.7,526.4 586.7,523.7 587.3,523.2 588.0,523.5 587.0,526.4"/><polygon points="582.8,528.1 581.2,528.0 578.3,524.7 579.5,524.3 582.0,526.5"/><polygon points="606.6,524.6 605.8,523.7 605.9,521.5 607.0,520.8 608.1,520.4 608.1,522.2 607.8,524.4"/><polygon points="600.4,528.4 599.7,525.4 600.5,522.0 601.2,521.2 601.4,525.5"/><polygon points="594.9,528.8 592.8,527.0 592.8,524.4 593.9,523.2 595.3,526.1"/><polygon points="589.2,530.7 587.2,529.2 585.5,526.9 584.7,524.9 586.4,526.1 588.5,528.5"/><polygon points="584.5,529.3 583.0,529.9 582.0,528.1 582.4,527.0 584.0,528.0"/><polygon points="607.3,526.3 605.3,525.1 603.5,522.9 603.3,520.9 605.2,522.2 607.3,524.2"/><polygon points="601.0,526.6 600.1,526.2 600.2,523.2 601.7,521.8 602.6,522.1 603.2,523.9 601.8,526.0"/><polygon points="596.8,529.9 595.7,526.8 595.0,523.0 595.8,523.4 596.7,526.7"/><polygon points="591.0,530.8 588.8,529.9 585.4,528.2 584.5,526.4 583.5,524.6 587.0,527.1 590.3,529.3"/><polygon points="585.4,531.7 582.9,531.3 578.8,526.9 580.2,526.0 583.9,529.2"/><polygon points="607.6,528.4 605.8,527.8 604.4,525.1 605.3,524.4 607.3,526.5"/><polygon points="599.9,531.6 598.6,531.6 597.4,527.5 597.8,525.2 598.8,525.8 600.0,527.1 600.5,530.2"/><polygon points="595.3,530.5 594.5,530.8 593.5,529.5 593.1,528.1 593.9,527.6 595.0,528.5 595.7,529.8"/><polygon points="589.9,532.8 587.9,532.0 587.8,529.8 588.8,529.4 590.5,530.7"/><polygon points="580.5,535.4 579.9,534.0 579.7,532.2 580.3,530.3 581.1,531.3 581.8,532.3 581.4,534.4"/><polygon points="610.8,531.4 609.0,530.6 606.7,527.2 604.8,523.9 607.4,525.8 609.4,528.9"/><polygon points="603.6,533.3 602.9,530.5 602.5,527.7 603.3,526.7 603.9,528.3 604.4,531.2"/><polygon points="590.4,535.1 589.9,534.1 590.9,530.7 593.1,527.7 593.6,529.2 593.5,531.8 591.5,535.2"/><polygon points="588.7,535.8 588.0,534.1 588.3,531.3 589.5,530.9 590.6,531.6 589.7,534.0"/><polygon points="581.3,537.9 580.4,538.1 578.2,535.3 577.7,533.8 578.2,533.6 579.5,534.2 581.1,536.7"/><polygon points="608.5,534.8 607.2,535.2 606.4,532.8 606.4,531.4 606.9,529.7 608.4,531.7 609.3,533.8"/><polygon points="600.3,539.1 600.2,535.2 600.9,531.1 601.8,531.5 601.8,536.0"/><polygon points="595.9,538.5 594.4,537.1 593.1,535.1 593.7,533.1 595.4,534.7 596.1,536.4"/><polygon points="585.9,541.8 585.3,541.3 586.0,537.1 586.7,533.2 587.3,534.0 587.2,537.2 586.5,540.2"/><polygon points="585.6,542.2 582.2,540.1 579.8,537.9 580.1,537.1 582.8,539.3"/><polygon points="605.8,540.2 604.7,536.2 605.4,530.4 607.1,530.1 607.0,536.1"/><polygon points="606.0,537.0 605.4,537.1 603.9,534.8 603.2,533.1 603.5,532.4 604.9,534.1 606.3,536.5"/><polygon points="594.7,541.0 593.3,540.2 591.8,537.6 592.3,536.4 592.4,534.4 593.9,537.0 595.0,539.4"/><polygon points="592.6,542.8 590.0,540.2 588.5,537.0 588.8,535.8 591.6,539.4"/><polygon points="585.6,544.9 584.6,541.8 583.7,537.6 584.0,534.7 585.0,537.9 585.4,541.3"/><polygon points="608.0,537.2 606.4,536.9 604.7,533.1 603.0,529.8 604.2,529.5 606.3,531.8 607.7,534.9"/><polygon points="601.2,538.5 600.0,538.0 599.6,535.3 600.5,533.7 601.6,533.0 602.2,535.4 601.9,537.3"/><polygon points="602.0,538.6 599.3,538.4 595.7,536.7 596.4,535.4 600.2,536.7"/><polygon points="591.2,544.3 590.5,543.3 590.8,540.9 591.5,539.6 592.5,538.4 592.7,541.0 592.1,543.4"/><polygon points="588.4,546.9 586.3,546.4 584.3,545.6 581.4,544.1 582.4,543.7 584.8,544.5 587.5,545.7"/><polygon points="609.0,538.4 607.9,537.6 607.6,535.3 608.5,534.0 609.4,535.4 610.0,537.4"/><polygon points="604.9,543.3 602.6,542.2 600.2,540.8 598.7,539.3 598.7,538.8 601.0,540.0 602.9,541.5"/><polygon points="601.8,543.1 599.6,542.8 598.1,542.3 597.3,541.6 598.0,541.0 600.1,542.0"/><polygon points="596.0,548.2 593.3,548.0 590.2,547.3 587.8,545.4 589.5,545.1 591.4,545.1 594.6,546.5"/><polygon points="585.6,552.0 584.0,551.2 584.2,548.7 585.6,548.3 586.3,550.6"/><polygon points="613.2,538.2 612.5,538.3 611.3,536.2 611.4,535.2 611.6,534.5 612.6,535.7 613.2,537.1"/><polygon points="604.0,545.2 602.9,544.8 602.8,540.5 603.0,537.2 604.1,536.8 605.3,539.9 605.0,544.4"/><polygon points="601.7,546.6 600.8,543.6 600.0,540.8 601.5,540.2 602.4,541.5 603.2,544.5"/><polygon points="590.9,550.9 590.4,549.7 590.3,548.1 591.0,546.6 592.1,546.3 592.1,548.4 591.7,549.8"/><polygon points="588.1,553.6 587.6,551.1 587.7,547.1 588.9,548.1 588.9,551.2"/><polygon points="613.9,542.4 612.9,542.7 612.0,540.2 611.7,538.9 612.3,538.6 613.6,539.0 614.3,541.4"/><polygon points="606.5,545.3 605.1,545.1 605.7,543.4 606.5,542.6 607.4,542.4 608.5,543.5 607.5,545.2"/><polygon points="599.5,552.6 598.7,551.4 597.7,547.7 597.2,543.8 598.1,545.0 599.1,547.4 599.9,551.3"/><polygon points="595.1,553.0 593.9,552.5 592.6,550.3 592.9,549.8 594.8,551.8"/><polygon points="594.0,554.2 592.2,553.9 590.0,550.5 591.3,549.8 593.9,552.3"/><polygon points="612.2,546.3 611.2,545.7 610.3,542.5 609.3,539.1 610.5,540.4 611.5,542.1 612.3,544.8"/><polygon points="609.5,548.8 607.6,547.7 605.2,543.4 606.0,542.4 607.3,542.4 609.1,546.3"/><polygon points="602.9,549.4 601.7,549.7 600.7,548.7 600.6,547.6 601.7,546.7 603.4,548.0"/><polygon points="598.5,554.5 596.7,554.2 594.6,551.8 594.2,549.7 595.3,549.5 597.1,549.9 598.6,552.7"/><polygon points="592.5,559.0 591.7,555.6 591.0,552.2 591.3,549.9 592.1,552.8 592.7,556.1"/><polygon points="614.6,544.0 614.2,543.4 613.8,542.3 614.3,541.6 614.9,540.7 615.5,542.1 615.2,543.5"/><polygon points="610.8,549.9 608.9,549.0 607.3,546.1 606.9,544.0 607.4,542.8 609.5,544.5 611.0,547.8"/><polygon points="604.0,553.4 602.4,552.7 599.7,550.1 599.9,548.2 600.0,546.7 602.3,548.3 604.7,552.2"/><polygon points="597.5,556.9 596.9,555.3 597.3,551.9 597.6,548.1 598.2,550.0 598.8,551.5 598.4,555.6"/><polygon points="593.2,558.4 592.6,557.0 592.8,554.6 593.1,552.4 593.7,553.1 594.0,554.6 593.8,556.6"/><polygon points="616.3,550.6 614.9,548.4 614.6,544.6 615.4,543.4 616.7,544.0 617.2,548.2"/><polygon points="610.8,553.6 608.5,554.0 604.4,551.3 604.4,549.5 606.4,549.6 609.6,551.3"/><polygon points="608.7,555.6 607.0,554.6 604.7,551.9 603.6,549.8 604.6,550.4 605.8,551.1 607.3,553.3"/><polygon points="599.4,557.6 598.7,556.9 597.7,555.6 598.5,554.2 599.4,554.1 600.4,555.3 600.3,557.3"/><polygon points="595.7,560.1 594.3,559.4 594.0,556.7 595.3,556.1 596.8,558.9"/><polygon points="617.9,553.5 616.8,551.5 615.8,548.4 616.3,546.6 616.8,544.6 618.0,548.1 618.3,551.4"/><polygon points="614.9,552.8 613.8,552.5 611.8,549.1 612.8,549.4 614.7,551.6"/><polygon points="608.7,559.1 607.2,555.7 606.3,551.9 607.3,552.5 608.8,555.9"/><polygon points="604.2,560.7 601.4,560.9 598.2,557.9 599.3,557.2 602.5,558.2"/><polygon points="602.1,562.1 598.9,561.3 595.7,560.3 593.5,558.6 596.2,558.8 600.5,560.5"/><polygon points="615.8,550.1 614.1,550.0 612.8,548.0 613.3,546.4 614.8,547.2 616.0,548.4"/><polygon points="614.6,553.1 613.1,551.9 610.9,548.8 610.7,547.0 612.1,547.6 614.6,551.6"/><polygon points="608.5,560.3 606.5,559.7 604.4,558.2 603.9,557.0 603.2,555.4 605.5,556.7 607.2,558.5"/><polygon points="606.8,560.6 605.0,560.8 602.4,559.7 602.3,558.5 603.4,558.1 606.0,559.0"/><polygon points="600.7,566.3 599.1,566.6 597.3,566.8 596.6,565.6 597.0,564.9 598.2,564.9 599.8,565.2"/><polygon points="618.7,551.4 617.4,551.9 615.0,551.7 612.2,551.0 612.2,550.0 615.1,550.0 617.7,550.6"/><polygon points="617.9,552.7 615.6,553.3 612.3,552.1 612.7,550.9 616.1,551.1"/><polygon points="611.8,562.1 609.1,560.4 605.9,555.0 607.7,555.7 610.1,558.6"/><polygon points="607.0,562.4 605.8,563.2 605.0,561.4 605.0,560.4 606.1,560.2 607.1,561.3"/><polygon points="603.6,567.9 601.8,567.0 600.6,564.0 601.3,563.2 603.1,565.8"/><polygon points="621.8,552.0 620.2,552.6 617.5,551.9 617.5,550.3 620.5,550.8"/><polygon points="616.7,558.7 615.2,557.7 614.7,555.0 614.5,552.1 616.3,554.2 617.7,557.3"/><polygon points="612.4,562.9 610.7,562.2 608.9,560.6 609.4,559.7 611.3,561.3"/><polygon points="610.0,564.8 608.6,565.0 606.4,564.5 605.7,562.5 607.9,562.5 609.9,563.3"/><polygon points="604.6,571.3 602.8,571.8 599.9,570.5 598.8,569.0 603.6,569.9"/><polygon points="621.2,556.3 619.8,555.1 618.1,552.2 617.7,551.0 618.6,551.5 620.8,554.5"/><polygon points="615.2,561.4 613.5,560.3 612.2,558.2 612.0,555.9 614.0,556.4 615.1,559.4"/><polygon points="613.5,564.7 612.2,562.9 611.0,559.1 611.2,558.0 612.0,558.2 613.4,562.4"/><polygon points="609.2,567.4 607.6,568.0 605.8,565.0 606.0,563.5 607.6,563.2 608.8,565.7"/><polygon points="606.9,570.0 604.7,569.8 602.5,568.3 602.7,567.0 606.3,568.0"/><polygon points="623.2,558.5 621.5,557.5 620.8,554.9 621.5,553.9 623.5,556.6"/><polygon points="621.8,562.6 620.2,561.8 618.0,557.3 617.5,555.1 619.0,555.8 621.5,560.5"/><polygon points="617.9,562.9 616.6,563.4 615.2,561.9 615.1,560.5 617.8,561.5"/><polygon points="613.7,569.3 612.8,569.8 609.2,569.5 606.5,569.0 607.6,568.5 609.5,568.4 613.7,568.5"/><polygon points="608.8,573.4 607.0,574.4 604.4,573.5 604.5,572.3 607.3,571.9"/><polygon points="627.1,556.4 624.9,556.9 623.7,555.4 623.8,553.9 625.8,554.7"/><polygon points="620.2,562.0 619.6,562.6 617.4,561.9 617.9,561.4 619.8,561.2"/><polygon points="618.6,566.1 617.6,566.5 612.6,565.8 609.9,564.7 613.5,564.9 616.9,565.5"/><polygon points="611.5,576.6 608.0,575.1 605.3,573.2 605.2,572.4 609.0,574.2"/><polygon points="628.7,560.1 625.9,560.0 622.5,559.6 621.8,558.6 623.2,558.1 626.1,559.1"/><polygon points="619.7,568.1 618.7,566.6 618.1,565.0 618.3,564.0 619.2,564.4 619.6,566.3"/><polygon points="616.7,574.7 615.2,571.2 614.1,566.4 615.0,564.2 616.6,566.1 617.4,571.3"/><polygon points="615.6,576.3 612.2,574.6 609.4,569.9 611.0,568.5 614.3,572.5"/><polygon points="628.8,564.2 627.4,563.1 625.9,560.8 625.8,559.3 628.4,562.6"/><polygon points="625.1,567.1 623.8,566.8 623.1,564.8 623.7,563.6 624.9,564.3 625.2,565.7"/><polygon points="621.8,571.8 619.6,572.0 617.4,571.8 615.9,571.2 617.6,570.9 620.3,571.0"/><polygon points="613.9,580.2 612.7,579.3 611.4,577.8 610.7,575.4 611.7,574.9 613.0,577.3 614.1,579.0"/><polygon points="630.6,564.4 628.7,564.8 625.9,564.8 623.9,563.5 626.1,562.8 629.8,563.1"/><polygon points="628.9,565.9 627.0,566.6 624.4,566.5 624.2,565.5 627.2,565.1"/><polygon points="623.3,573.6 622.2,572.7 621.3,571.5 621.5,569.9 622.7,570.2 623.6,570.8 623.6,572.1"/><polygon points="617.3,582.2 616.1,582.2 614.6,580.4 615.3,579.6 616.8,581.1"/><polygon points="633.1,562.1 631.6,563.1 628.9,561.4 627.8,559.8 629.4,558.8 632.6,560.4"/><polygon points="630.4,570.2 626.8,570.0 623.1,569.1 622.2,567.6 623.9,567.1 627.6,568.2"/><polygon points="622.9,577.3 621.0,576.6 619.4,574.4 619.8,572.7 621.5,573.6 622.6,575.1"/><polygon points="619.1,581.3 618.2,581.9 615.9,579.8 615.7,578.3 617.4,578.7 619.1,580.3"/><polygon points="633.6,565.5 632.1,566.2 628.6,564.2 628.7,563.1 632.5,564.2"/><polygon points="630.3,570.9 628.7,571.3 624.8,571.0 623.8,569.7 626.2,569.5 629.2,569.9"/><polygon points="625.3,578.1 624.5,578.0 623.3,575.3 622.8,573.8 622.7,572.5 624.3,574.4 625.1,576.7"/><polygon points="622.6,580.4 621.4,579.9 620.6,578.1 620.6,575.8 622.3,577.5 623.5,579.3"/><polygon points="636.5,570.5 633.2,570.0 628.9,568.5 627.5,566.3 630.5,566.6 635.0,568.3"/><polygon points="631.4,572.0 630.8,572.3 629.5,570.7 628.4,569.2 629.7,569.6 631.2,571.2"/><polygon points="629.6,580.2 626.9,577.9 624.9,574.0 625.5,573.4 628.4,576.9"/><polygon points="625.6,582.4 624.0,581.8 622.5,580.7 622.3,579.9 623.2,580.0 624.7,581.1"/><polygon points="636.0,569.4 635.0,570.3 632.0,569.6 630.5,568.2 632.4,567.5 635.1,568.4"/><polygon points="632.8,573.8 631.4,574.8 629.4,574.9 628.4,574.2 629.3,573.3 631.0,573.3"/><polygon points="632.5,577.0 630.4,577.1 626.4,574.8 627.0,574.4 630.6,575.5"/><polygon points="627.5,583.8 625.8,583.9 623.4,582.7 622.1,581.7 623.6,581.7 626.2,582.6"/><polygon points="640.8,570.9 637.5,569.0 634.8,567.0 633.4,564.3 636.5,566.1 639.3,567.9"/><polygon points="634.6,575.2 633.2,575.2 631.5,571.4 632.0,569.7 633.6,570.9 635.3,574.0"/><polygon points="631.7,578.9 630.3,580.2 627.3,578.8 627.7,577.2 630.7,577.3"/><polygon points="629.9,582.4 627.9,583.1 625.1,582.3 625.9,581.3 627.8,581.5"/><polygon points="639.9,573.5 637.8,574.1 634.9,573.1 632.9,571.0 635.9,570.9 639.1,571.6"/><polygon points="639.9,577.2 637.5,575.9 634.5,573.7 632.8,571.8 633.8,572.0 635.4,572.6 637.5,574.8"/><polygon points="632.5,582.1 630.7,582.9 628.6,583.0 628.8,582.1 630.7,581.5"/><polygon points="631.0,588.4 629.2,585.5 627.4,583.5 627.6,581.5 628.2,580.6 629.9,582.5 630.4,585.3"/><polygon points="643.3,573.5 642.7,574.4 639.4,573.2 638.4,571.9 638.3,571.1 640.3,571.4 643.4,572.4"/><polygon points="639.4,580.4 636.5,580.3 634.0,579.0 633.8,577.5 637.8,578.2"/><polygon points="638.0,582.5 635.3,582.0 633.8,579.8 634.1,578.9 636.8,580.1"/><polygon points="635.4,586.7 632.3,586.9 628.8,585.8 630.0,585.0 632.8,585.1"/><polygon points="644.3,577.4 642.9,577.0 640.9,576.3 640.1,575.1 641.7,575.4 643.7,576.5"/><polygon points="642.3,583.1 639.9,581.9 638.2,579.4 638.6,578.7 640.7,580.6"/><polygon points="641.3,587.7 638.3,586.5 634.6,583.5 632.9,580.5 635.9,581.4 639.8,585.0"/><polygon points="635.9,590.7 636.1,591.7 632.0,591.7 630.1,591.1 630.5,590.4 632.3,590.1 634.5,590.2"/><polygon points="644.6,575.3 643.4,575.4 641.6,573.6 642.4,573.2 644.3,574.2"/><polygon points="641.8,583.5 640.6,584.1 637.0,583.8 635.8,583.2 636.8,582.7 640.4,582.8"/><polygon points="641.4,586.5 638.2,586.4 635.2,585.2 634.7,583.8 638.9,584.6"/><polygon points="647.4,579.3 646.1,579.2 644.1,578.9 643.1,577.1 643.5,575.9 645.7,576.5 647.8,578.2"/><polygon points="646.0,583.8 643.8,584.0 639.1,582.1 640.5,581.2 644.3,582.3"/><polygon points="639.8,593.9 638.3,593.6 636.7,592.3 636.7,590.8 637.3,589.8 638.8,590.8 640.2,592.5"/><polygon points="651.3,582.9 648.5,582.1 645.7,581.0 644.6,579.7 643.0,577.9 646.5,579.1 650.3,581.2"/><polygon points="647.4,587.0 645.7,585.6 644.0,582.8 643.9,581.5 644.9,582.1 647.1,585.1"/><polygon points="643.4,591.5 642.4,592.4 640.3,592.4 639.6,591.8 640.5,591.3 641.8,591.1"/><polygon points="652.1,581.7 650.3,580.8 649.1,578.8 649.2,577.3 650.6,577.4 652.5,579.9"/><polygon points="648.4,587.9 648.0,589.0 645.4,589.0 642.5,589.0 643.3,587.8 645.1,587.1 646.9,587.4"/><polygon points="647.0,590.9 646.0,590.9 643.6,588.8 642.8,587.3 644.3,587.7 646.6,589.8"/><polygon points="659.2,580.3 655.4,580.8 650.8,580.5 651.9,579.3 655.8,579.0"/><polygon points="653.4,590.7 651.2,590.0 648.3,587.6 647.9,586.4 649.1,586.1 652.2,588.8"/><polygon points="652.5,591.0 650.2,592.5 644.8,592.7 646.1,591.5 649.6,590.5"/><polygon points="656.9,583.5 656.1,583.2 654.7,581.9 654.1,580.6 654.3,580.0 655.7,581.3 656.7,582.6"/><polygon points="655.4,588.4 653.8,587.0 651.7,584.9 652.3,584.3 653.3,584.7 654.7,586.5"/><polygon points="652.7,594.4 651.1,594.3 648.0,591.2 648.6,590.4 649.7,590.5 652.4,592.8"/><polygon points="660.2,583.7 658.2,584.6 654.4,585.0 653.9,584.4 658.3,583.3"/><polygon points="658.4,589.2 657.0,588.8 654.3,587.5 652.2,585.8 652.1,585.0 655.1,586.5 657.3,588.1"/><polygon points="654.2,596.2 651.8,596.6 649.0,597.0 647.1,596.5 649.7,596.0 652.8,595.6"/><polygon points="663.7,586.6 661.0,587.0 657.4,585.5 654.0,583.9 657.1,583.8 661.6,584.8"/><polygon points="658.0,594.2 655.3,594.0 653.2,592.7 652.9,591.7 656.3,592.4"/><polygon points="656.4,600.5 653.5,598.8 651.2,595.5 650.2,592.7 652.6,593.4 655.8,597.4"/><polygon points="664.6,585.9 663.6,586.7 661.4,585.8 660.0,584.6 661.9,584.4 664.1,584.7"/><polygon points="665.3,589.4 663.1,590.5 659.8,591.9 657.2,592.0 655.7,591.8 660.0,590.5 663.6,589.3"/><polygon points="660.5,598.0 659.5,599.0 658.1,599.5 657.1,598.6 656.5,597.4 658.2,597.2 659.8,596.8"/><polygon points="666.6,587.6 665.3,589.2 660.6,590.0 660.2,587.7 665.1,586.3"/><polygon points="665.6,592.8 663.6,593.2 660.5,589.9 660.4,587.9 664.7,590.8"/><polygon points="663.3,600.0 662.5,601.2 659.4,600.6 657.6,599.1 657.7,597.8 660.2,597.3 662.9,598.7"/><polygon points="667.3,586.5 666.5,588.0 663.6,588.1 663.6,586.6 665.9,585.7"/><polygon points="665.8,595.5 664.9,596.5 662.2,596.7 660.6,596.3 659.3,595.5 662.1,595.0 665.1,594.5"/><polygon points="662.7,600.5 661.7,600.5 659.6,598.0 660.2,597.5 662.6,599.5"/><polygon points="669.4,593.8 667.0,592.7 664.5,589.8 665.3,589.0 668.4,591.5"/><polygon points="667.6,602.3 665.1,600.7 662.2,598.4 662.5,597.5 663.9,597.9 665.8,599.8"/><polygon points="672.4,588.5 671.9,589.5 670.5,589.6 669.3,589.4 668.6,588.5 670.2,587.9 671.7,587.5"/><polygon points="672.0,597.6 668.9,596.9 665.8,594.8 667.2,594.5 669.8,595.3"/><polygon points="675.0,593.9 674.0,594.8 670.0,595.9 666.3,596.3 668.9,594.7 673.9,593.5"/><polygon points="673.9,597.9 671.5,598.6 669.5,598.0 669.1,597.1 671.7,596.7"/><polygon points="675.5,596.3 674.6,596.3 673.6,595.7 673.4,594.3 674.3,593.1 675.4,594.6 676.5,595.6"/><polygon points="673.9,603.8 672.3,603.3 670.2,601.2 672.0,601.0 673.8,602.1"/><polygon points="679.5,594.5 677.8,594.5 675.0,592.4 676.4,591.8 679.0,592.9"/><polygon points="678.5,599.8 677.7,600.6 674.9,601.2 671.8,601.8 672.9,600.9 674.3,599.9 677.5,599.4"/><polygon points="682.5,600.2 679.7,598.8 676.5,596.5 676.3,595.3 681.1,598.2"/><polygon points="681.7,602.5 680.2,604.9 675.3,606.2 674.8,604.2 678.8,602.4"/><polygon points="687.6,595.6 684.0,596.1 680.0,594.9 678.0,593.5 683.6,594.3"/><polygon points="685.4,599.5 683.0,599.9 679.6,600.1 679.5,599.3 680.1,598.7 683.9,598.7"/><polygon points="686.4,593.7 685.5,594.8 683.2,594.3 683.6,593.0 685.6,592.4"/><polygon points="684.9,602.1 683.4,602.3 681.7,599.6 682.6,598.4 685.3,600.7"/><polygon points="690.3,595.9 688.5,595.5 685.6,593.6 685.6,592.9 686.5,592.9 688.5,594.4"/><polygon points="690.5,602.5 688.3,603.8 684.3,604.4 683.3,603.9 683.5,603.0 687.2,602.7"/><polygon points="694.2,596.2 692.9,597.2 688.7,596.9 686.6,596.5 685.2,595.8 688.5,595.4 692.7,595.3"/><polygon points="690.6,601.9 689.7,603.1 687.9,603.0 686.5,602.6 687.6,601.7 689.4,600.9"/><polygon points="693.6,598.9 691.8,599.3 688.0,597.6 687.1,596.5 691.5,597.7"/><polygon points="692.6,603.8 691.2,604.6 688.0,602.7 687.1,601.3 688.4,600.5 691.9,602.3"/><polygon points="698.2,603.8 696.1,605.2 691.8,606.7 689.5,606.2 689.3,605.3 691.8,604.3 695.4,603.5"/><polygon points="698.3,603.7 696.4,604.1 694.1,604.1 693.0,603.7 694.0,603.2 696.7,603.2"/><polygon points="704.0,602.0 702.1,603.0 697.7,604.5 694.5,604.3 697.6,602.8 703.0,601.4"/><polygon points="704.2,603.7 703.4,604.3 700.9,603.4 699.3,601.7 699.7,600.6 702.1,601.5 704.3,602.7"/><polygon points="708.3,600.5 707.2,601.4 703.9,599.9 701.9,597.6 704.7,597.2 707.7,599.2"/><polygon points="708.6,603.8 708.0,604.3 705.8,603.2 703.9,601.7 704.7,601.2 706.6,601.3 708.4,602.9"/><polygon points="633.0,552.7 641.0,549.7 651.0,552.7 644.0,555.7 636.0,556.7"/><polygon points="631.0,558.7 645.0,557.7 655.0,560.7 646.0,562.7 635.0,562.7"/><polygon points="639.0,566.7 650.0,564.7 657.0,568.7 649.0,571.7"/></g>
<polygon points="680.5,559.2 675.0,556.2 667.6,555.1 659.7,556.7 653.4,559.8 648.6,563.0 647.1,570.9 650.2,577.2 659.7,581.9 672.3,586.6 680.5,590.5" fill="#fff" stroke="#222" stroke-width="1.2"/>
<g clip-path="url(#cr)"><rect x="565" y="76.7" width="420" height="530" fill="#f4bfa8"/>
<polygon points="635.0,222.7 696.0,222.7 696.0,252.7 729.6,252.7 729.6,248.7 741.0,248.7 741.0,212.7 815.0,212.7 815.0,225.7 842.0,233.3 865.0,232.7 865.0,396.7 759.0,388.7 759.0,380.5 757.5,379.4 727.2,379.4 727.2,355.0 686.8,353.2 686.8,350.0 666.6,350.0 666.6,327.3 665.0,325.1 657.1,320.3 654.4,312.5 635.0,311.7" fill="#f1967b"/>
<polygon points="741.0,214.6 799.6,214.6 799.6,246.7 788.3,246.7 788.3,295.2 716.4,296.0 716.4,260.0 729.6,260.0 729.6,248.7 741.0,248.7" fill="#e46152"/>
<polygon points="777.4,214.6 799.6,214.6 799.6,246.7 788.3,246.7 788.3,286.7 773.0,286.7 783.1,264.9 778.9,255.0 776.0,248.6 778.9,240.8 782.4,233.0 778.9,226.6" fill="#e86e5c"/>
<polygon points="655.0,91.7 741.8,91.7 741.8,165.7 740.2,175.1 735.5,183.0 732.3,190.9 733.9,201.9 734.8,206.7 735.5,214.7 729.1,224.0 724.9,235.1 723.5,249.3 715.0,249.3 715.0,258.3 700.7,258.3 700.7,252.7 696.0,252.7 696.0,222.7 645.0,210.7" fill="#d2d2d2"/>
<rect x="742.6" y="163.8" width="10.5" height="24.6" fill="#dcdcdc"/>
<rect x="693.6" y="229.7" width="9.4" height="19.0" fill="#dcdcdc"/>
<rect x="724.4" y="239.4" width="9.5" height="11.8" fill="#dcdcdc"/></g>
<polyline points="732.1,104.7 730.9,107.2 732.1,113.5 735.9,121.1 741.0,125.5 745.4,124.9 747.3,127.4 746.0,137.5 741.0,138.8 733.4,140.0 725.8,136.3 720.8,131.2 719.5,124.9 717.0,123.0 714.4,124.9 713.8,132.5 710.7,135.0 702.4,128.7" fill="none" stroke="#2d2320" stroke-width="1.6" stroke-linejoin="round"/>
<polyline points="684.1,149.5 695.5,150.8 708.1,151.4 711.8,152.2 711.0,157.7 713.4,164.1 719.7,166.4 726.0,164.1 735.5,164.8 742.6,165.6 746.5,157.7 746.8,155.6 759.9,156.8 767.5,146.7 775.1,135.0 775.1,110.4" fill="none" stroke="#2d2320" stroke-width="1.6" stroke-linejoin="round"/>
<polyline points="719.7,166.4 722.8,175.1 718.1,181.4 726.0,189.3 732.3,190.9 735.5,183.0 740.2,175.1 742.6,165.6" fill="none" stroke="#2d2320" stroke-width="1.6" stroke-linejoin="round"/>
<polyline points="732.3,190.9 733.9,201.9 734.8,206.7 735.5,214.7" fill="none" stroke="#2d2320" stroke-width="1.6" stroke-linejoin="round"/>
<polyline points="673.5,188.5 683.4,188.5 692.9,194.0 703.9,197.2 711.8,200.3 718.1,205.1 724.4,213.0 729.1,224.0" fill="none" stroke="#2d2320" stroke-width="1.6" stroke-linejoin="round"/>
<polyline points="735.5,214.7 736.3,214.5 746.2,212.4 759.0,217.4 777.4,218.1" fill="none" stroke="#2d2320" stroke-width="1.6" stroke-linejoin="round"/>
<polyline points="735.5,214.7 729.1,224.0 724.9,235.1 723.5,249.3" fill="none" stroke="#2d2320" stroke-width="1.6" stroke-linejoin="round"/>
<polyline points="667.6,197.2 672.3,200.3 675.5,206.7 675.5,214.6 683.4,217.7 692.9,224.0 700.7,231.9 705.5,241.4 707.0,249.3" fill="none" stroke="#2d2320" stroke-width="1.6" stroke-linejoin="round"/>
<polyline points="699.7,250.1 707.0,249.3 715.5,249.5 723.5,249.3 730.0,250.7 735.7,256.0 735.0,265.7 734.3,276.7 734.6,295.7 734.4,310.1 712.3,310.1" fill="none" stroke="#2d2320" stroke-width="1.6" stroke-linejoin="round"/>
<polyline points="699.7,250.1 699.7,254.1 702.8,261.9 706.0,273.0 709.1,282.5 712.3,295.1 712.3,310.1 687.0,310.1" fill="none" stroke="#2d2320" stroke-width="1.6" stroke-linejoin="round"/>
<polyline points="657.1,255.6 668.1,252.5 674.4,251.7 679.2,255.6 687.0,252.5 694.9,254.1 699.7,254.1" fill="none" stroke="#2d2320" stroke-width="1.6" stroke-linejoin="round"/>
<polyline points="687.0,310.1 687.3,334.2 687.3,353.5 689.7,355.1" fill="none" stroke="#2d2320" stroke-width="1.6" stroke-linejoin="round"/>
<polyline points="654.4,312.5 657.1,320.3 665.0,325.1 673.9,331.4 683.9,333.0 688.1,334.6 692.8,339.3 700.4,343.8 712.2,350.9 726.4,352.1 741.8,353.3 751.3,356.2 759.0,359.8" fill="none" stroke="#2d2320" stroke-width="1.6" stroke-linejoin="round"/>
<polyline points="689.7,355.1 680.2,359.8 670.7,366.1 663.9,369.3 661.3,370.9 656.0,378.8 647.1,380.3 643.4,385.1 633.4,385.9" fill="none" stroke="#2d2320" stroke-width="1.6" stroke-linejoin="round"/>
<polyline points="632.5,399.6 734.0,399.6" fill="none" stroke="#2d2320" stroke-width="1.6" stroke-linejoin="round"/>
<polyline points="635.4,459.3 696.0,459.3" fill="none" stroke="#2d2320" stroke-width="1.6" stroke-linejoin="round"/>
<polyline points="759.4,287.0 759.2,380.5 763.1,382.9 767.8,385.2" fill="none" stroke="#2d2320" stroke-width="1.6" stroke-linejoin="round"/>
<polyline points="734.6,295.7 759.4,295.7" fill="none" stroke="#2d2320" stroke-width="1.6" stroke-linejoin="round"/>
<polyline points="759.4,287.0 768.9,286.2" fill="none" stroke="#2d2320" stroke-width="1.6" stroke-linejoin="round"/>
<polyline points="777.4,218.1 778.9,226.6 782.4,233.0 778.9,240.8 776.0,248.6 778.9,255.0 783.1,264.9 776.0,274.9 768.9,286.2" fill="none" stroke="#2d2320" stroke-width="1.6" stroke-linejoin="round"/>
<polyline points="768.9,286.2 784.5,286.2 797.3,274.9 803.0,274.9 805.4,271.2" fill="none" stroke="#2d2320" stroke-width="1.6" stroke-linejoin="round"/>
<polyline points="805.4,271.2 800.4,264.9 798.5,257.3 799.1,247.2 805.4,243.4 811.7,235.9 814.9,228.3 815.5,220.7 815.5,215.3 817.8,209.4 822.6,201.1 823.8,194.0 826.1,191.7 827.3,184.6 829.7,179.8 833.3,176.7" fill="none" stroke="#2d2320" stroke-width="1.6" stroke-linejoin="round"/>
<polyline points="805.4,271.2 815.5,276.3 825.6,280.0 832.4,283.2" fill="none" stroke="#2d2320" stroke-width="1.6" stroke-linejoin="round"/>
<polyline points="815.2,225.7 825.6,223.9 834.4,224.5 839.5,228.3 842.0,233.3" fill="none" stroke="#2d2320" stroke-width="1.6" stroke-linejoin="round"/>
<polyline points="784.7,191.7 826.1,191.7" fill="none" stroke="#2d2320" stroke-width="1.6" stroke-linejoin="round"/>
<polyline points="783.5,156.8 784.7,170.4 784.7,191.7 782.9,203.5 780.0,215.3 777.4,218.1" fill="none" stroke="#2d2320" stroke-width="1.6" stroke-linejoin="round"/>
<polyline points="759.9,156.8 783.5,156.8" fill="none" stroke="#2d2320" stroke-width="1.6" stroke-linejoin="round"/>
<polyline points="775.1,135.0 782.7,137.5 790.3,142.6 797.8,147.6 806.0,153.8 815.5,163.3 824.9,169.2 833.2,175.1" fill="none" stroke="#2d2320" stroke-width="1.6" stroke-linejoin="round"/>
<polyline points="869.0,182.2 873.4,194.8" fill="none" stroke="#2d2320" stroke-width="1.6" stroke-linejoin="round"/>
<polygon points="703.1,114.2 706.9,107.8 710.7,105.3 714.4,103.4 717.0,99.6 720.8,102.2 724.5,104.1 733.4,104.1 741.0,104.7 743.5,109.7 745.4,114.8 748.5,106.6 751.1,102.8 758.6,102.2 768.7,102.8 771.3,104.7 775.1,110.4 780.2,116.1 786.5,122.4 794.0,128.7 800.4,131.2 807.9,132.5 815.5,136.3 823.1,141.3 830.7,143.8 837.0,146.4 842.0,148.9 845.5,152.7 844.5,157.7 841.0,162.2 838.0,166.8 833.2,175.1 833.5,179.2 841.5,181.0 845.0,181.5 855.1,183.4 863.9,184.1 869.0,182.2 876.6,177.1 884.1,174.6 889.2,169.5 889.6,162.7 889.6,157.3 893.4,155.4 897.8,154.8 901.6,157.3 903.5,164.9 903.7,173.3 902.3,177.5 900.6,179.6 895.9,181.3 893.0,183.4 889.6,185.1 882.9,188.5 874.0,194.2 863.9,204.9 855.1,213.7 847.5,222.6 845.8,225.7 842.0,233.3 840.8,239.6 839.5,246.0 837.6,252.3 837.6,258.6 838.2,264.9 833.8,268.7 831.9,276.3 832.4,285.4 834.0,290.2 843.5,294.9 849.8,299.6 850.6,305.9 849.8,310.7 857.7,315.4 859.2,321.7 856.1,329.6 846.6,340.7 843.5,343.8 827.7,348.5 811.9,353.3 796.1,354.9 782.0,355.0 777.3,352.1 776.1,358.0 778.5,360.4 777.3,367.5 773.8,374.6 777.3,373.4 778.5,376.9 774.9,381.7 767.8,385.2 761.9,387.0 752.5,387.0 744.2,384.0 737.1,381.1 733.5,382.9 732.9,390.0 734.7,395.9 734.0,399.6 736.5,402.4 741.5,404.3 742.8,406.2 745.3,404.3 747.9,402.4 752.9,400.5 756.1,403.7 756.7,408.1 755.4,411.9 750.4,413.2 747.2,411.3 746.0,408.1 743.4,407.5 737.8,408.1 735.2,410.6 737.1,412.5 744.7,415.0 738.4,417.6 734.0,420.1 730.8,423.9 730.2,427.0 729.9,432.5 726.0,441.9 714.9,445.1 705.5,449.8 697.6,456.1 696.0,460.9 699.1,467.2 708.6,473.5 721.2,476.7 724.4,483.0 721.9,488.1 715.6,493.1 708.0,496.9 701.7,500.7 696.6,505.7 694.7,510.8 694.1,515.8 690.3,519.6 682.8,520.9 676.5,524.7 673.9,529.7 673.9,536.0 675.2,542.3 679.0,548.6 684.0,553.0 680.2,551.1 667.6,549.3 655.0,548.7 651.8,548.8 632.9,548.0 628.1,544.0 626.5,537.7 625.0,531.4 620.2,529.8 612.3,528.3 610.8,520.4 607.6,512.5 610.8,507.7 617.1,501.4 618.7,501.9 623.4,490.9 628.1,479.8 633.7,468.8 635.2,459.3 636.0,454.6 640.8,448.3 631.3,441.9 642.3,437.2 634.4,432.5 632.9,426.2 632.1,420.7 630.5,411.9 631.3,402.4 632.9,394.5 633.7,386.7 633.1,381.7 633.9,375.6 635.5,364.5 638.6,355.1 645.7,350.3 645.0,340.9 643.4,328.3 644.2,320.4 648.1,317.2 654.4,312.5 652.8,304.6 654.4,296.7 655.5,293.5 658.6,287.2 661.8,280.9 661.0,273.0 660.2,265.1 657.1,255.6 655.5,250.9 652.3,243.0 653.4,238.2 656.6,231.9 659.7,227.2 661.3,219.3 661.3,211.4 664.4,203.5 667.6,197.2 672.3,190.9 675.5,184.6 678.6,178.3 683.4,176.7 685.0,170.4 682.6,162.5 681.8,153.0 684.1,149.5 682.2,146.4 682.9,142.6 686.7,138.8 695.5,133.7 700.6,131.2 702.4,128.7 704.3,118.6" fill="none" stroke="#2d2320" stroke-width="1.7" stroke-linejoin="round"/>
<polygon points="680.5,559.2 683.6,560.7 686.7,563.9 687.5,567.8 693.8,573.3 703.1,578.0 712.5,582.7 721.9,586.5 732.8,588.1 731.3,591.2 718.8,592.0 706.3,592.0 692.2,592.0 680.5,590.5" fill="none" stroke="#2d2320" stroke-width="1.4" stroke-linejoin="round"/>
<polygon points="789.7,544.3 794.0,541.2 800.8,537.6 810.0,537.9 819.7,539.6 811.0,547.5 805.0,549.2 800.8,550.6 795.0,547.2" fill="#fff" stroke="#111" stroke-width="2.4" stroke-linejoin="round"/>
<polygon points="789.2,543.5 796.8,542.3 801.5,548.3 795.3,550.3" fill="#111"/>
<polyline points="822.1,541.2 817.0,547.7 814.2,553.8" fill="none" stroke="#111" stroke-width="2.2"/>
<ellipse cx="830.4" cy="543.1" rx="6.2" ry="3.7" fill="#fff" stroke="#111" stroke-width="2.4"/>
<polygon points="835.5,538.6 843.4,540.2 844.0,544.3 836.3,545.5" fill="#111"/>
<circle cx="813.4" cy="552.2" r="1.3" fill="#111"/>
<circle cx="818.9" cy="550.6" r="1.1" fill="#111"/>
<circle cx="832.3" cy="549.0" r="1.2" fill="#111"/>
<circle cx="829.2" cy="549.8" r="1.0" fill="#111"/>
<circle cx="793.2" cy="534.3" r="0.9" fill="#111"/>
<ellipse cx="528.7" cy="275.5" rx="2.2" ry="1.6" fill="#222"/>
<circle cx="602.4" cy="345.6" r="0.9" fill="#333"/>
<polyline points="739.0,589.7 753.0,588.7" fill="none" stroke="#111" stroke-width="2.2"/>
<g><path d="M96.96,94.50 A24.20,24.20 0 1,0 96.96,118.70" fill="none" stroke="#f8ae1c" stroke-width="10.60"/><polygon points="70.9,96.8 76.0,95.6 81.9,95.9 87.5,97.2 93.0,97.9 98.0,97.9 102.9,97.2 108.0,95.8 112.8,94.2 112.8,102.9 108.0,104.2 102.9,104.8 98.0,105.3 93.0,105.3 87.5,104.6 81.9,103.6 76.0,103.6 70.9,105.2" fill="#1f8fd6"/><polygon points="70.9,109.0 76.0,107.8 81.9,108.1 87.5,109.4 93.0,110.1 98.0,110.1 102.9,109.4 108.0,108.0 112.8,106.4 112.8,115.1 108.0,116.4 102.9,117.0 98.0,117.5 93.0,117.5 87.5,116.8 81.9,115.8 76.0,115.8 70.9,117.4" fill="#1f8fd6"/></g>
<g transform="translate(579.3,113) scale(1.075) translate(-76,-106.6)"><path d="M96.96,94.50 A24.20,24.20 0 1,0 96.96,118.70" fill="none" stroke="#f8ae1c" stroke-width="10.60"/><polygon points="70.9,96.8 76.0,95.6 82.0,95.9 88.0,97.2 93.9,97.9 99.3,97.9 104.5,97.2 110.0,95.8 115.1,94.2 115.1,102.9 110.0,104.2 104.5,104.8 99.3,105.3 93.9,105.3 88.0,104.6 82.0,103.6 76.0,103.6 70.9,105.2" fill="#1f8fd6"/><polygon points="70.9,109.0 76.0,107.8 82.0,108.1 88.0,109.4 93.9,110.1 99.3,110.1 104.5,109.4 110.0,108.0 115.1,106.4 115.1,115.1 110.0,116.4 104.5,117.0 99.3,117.5 93.9,117.5 88.0,116.8 82.0,115.8 76.0,115.8 70.9,117.4" fill="#1f8fd6"/></g>
</svg>
<div class="t" style="left:143.8px;top:31.3px;letter-spacing:0.08px">Pronóstico de Precipitación</div>
<div class="t" style="left:105px;top:51.3px;letter-spacing:0.15px">Octubre-Noviembre-Diciembre 2025</div>
<div class="t" style="left:649.5px;top:32.0px">Pronóstico de Temperatura</div>
<div class="t" style="left:610px;top:52.0px;letter-spacing:0.15px">Octubre-Noviembre-Diciembre 2025</div>
<div class="smn" style="left:43px;top:140px;font-size:30px;line-height:30px;letter-spacing:0.3px">SMN</div>
<div class="smn" style="left:545px;top:148.5px;font-size:32.5px;line-height:32px;letter-spacing:0.5px">SMN</div>
<div class="lt" style="left:364.5px;top:255.5px;width:120px">Categoría más<br>probable</div>
<div class="lt" style="left:869.5px;top:250.2px;width:120px">Categoría más<br>probable</div>
<div class="box" style="left:390px;top:308.2px;background:#107530"></div>
<div class="lab" style="left:434.5px;top:310.2px">>55%</div>
<div class="box" style="left:390px;top:337.3px;background:#45ab4a"></div>
<div class="lab" style="left:434.5px;top:339.3px">50-55%</div>
<div class="box" style="left:390px;top:366.4px;background:#88df6d"></div>
<div class="lab" style="left:434.5px;top:368.4px">45-50%</div>
<div class="box" style="left:390px;top:395.5px;background:#c7f799"></div>
<div class="lab" style="left:434.5px;top:397.5px">40-45%</div>
<div class="box" style="left:390px;top:424.6px;background:#cbcbcb"></div>
<div class="lab" style="left:434.5px;top:426.6px">>=40%</div>
<div class="box" style="left:390px;top:453.7px;background:#fec970"></div>
<div class="lab" style="left:434.5px;top:455.7px">40-45%</div>
<div class="box" style="left:390px;top:482.8px;background:#e39730"></div>
<div class="lab" style="left:434.5px;top:484.8px">45-50%</div>
<div class="box" style="left:390px;top:511.9px;background:#d86a1a"></div>
<div class="lab" style="left:434.5px;top:513.9px">50-55%</div>
<div class="box" style="left:390px;top:541.0px;background:#ae5516"></div>
<div class="lab" style="left:434.5px;top:543.0px">>55%</div>
<div class="box" style="left:900px;top:303.0px;background:#ca0020"></div>
<div class="lab" style="left:944.5px;top:305.0px">>55%</div>
<div class="box" style="left:900px;top:332.2px;background:#dd4a4a"></div>
<div class="lab" style="left:944.5px;top:334.2px">50-55%</div>
<div class="box" style="left:900px;top:361.4px;background:#ef8768"></div>
<div class="lab" style="left:944.5px;top:363.4px">45-50%</div>
<div class="box" style="left:900px;top:390.6px;background:#f5c3ab"></div>
<div class="lab" style="left:944.5px;top:392.6px">40-45%</div>
<div class="box" style="left:900px;top:419.8px;background:#cbcbcb"></div>
<div class="lab" style="left:944.5px;top:421.8px">>=40%</div>
<div class="box" style="left:900px;top:449.0px;background:#b3d6e8"></div>
<div class="lab" style="left:944.5px;top:451.0px">40-45%</div>
<div class="box" style="left:900px;top:478.2px;background:#84bad9"></div>
<div class="lab" style="left:944.5px;top:480.2px">45-50%</div>
<div class="box" style="left:900px;top:507.4px;background:#4595c8"></div>
<div class="lab" style="left:944.5px;top:509.4px">50-55%</div>
<div class="box" style="left:900px;top:536.6px;background:#0570b0"></div>
<div class="lab" style="left:944.5px;top:538.6px">>55%</div>
<div class="cat" style="left:299px;top:360.5px">SUPERIOR A<br>LA NORMAL</div>
<div class="cat" style="left:309.5px;top:426px">NORMAL</div>
<div class="cat" style="left:298px;top:482px">INFERIOR A<br>LA NORMAL</div>
<div class="cat" style="left:797.5px;top:367.4px">SUPERIOR A<br>LA NORMAL</div>
<div class="cat" style="left:809px;top:424.3px">NORMAL</div>
<div class="cat" style="left:796.5px;top:486.6px">INFERIOR A<br>LA NORMAL</div>
<div class="fn" style="left:274px;top:571px;width:200px">Blanco: igual probabilidad para<br>las tres categorías (Climatología)</div>
<div class="fn" style="left:794px;top:569.5px;width:200px">Blanco: igual probabilidad para<br>las tres categorías (Climatología)</div>
</div></body></html>
